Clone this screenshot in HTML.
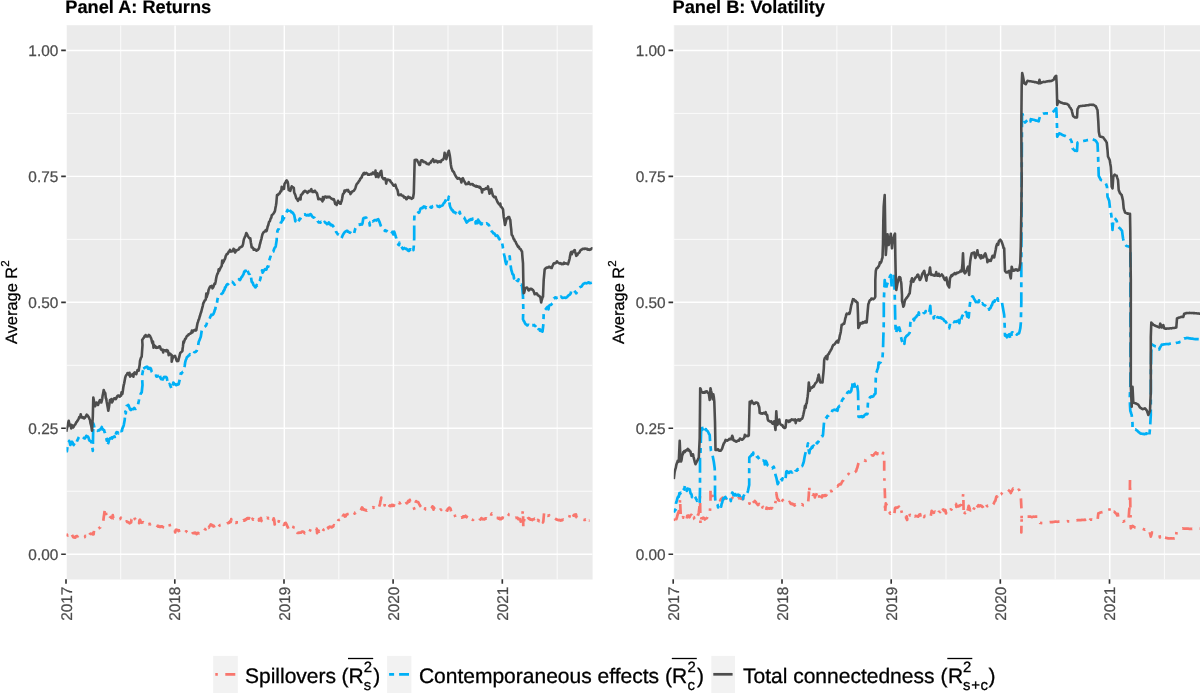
<!DOCTYPE html>
<html><head><meta charset="utf-8"><title>Connectedness</title>
<style>html,body{margin:0;padding:0;background:#fff;width:1200px;height:693px;overflow:hidden}svg text{font-family:"Liberation Sans",sans-serif;text-rendering:geometricPrecision}</style>
</head><body>
<svg width="1200" height="693" viewBox="0 0 1200 693" style="display:block;will-change:transform;font-family:'Liberation Sans',sans-serif">
<rect width="1200" height="693" fill="#fff"/>
<defs>
<clipPath id="cA"><rect x="66.5" y="25.2" width="526.1" height="554.3"/></clipPath>
<clipPath id="cB"><rect x="673.8" y="25.2" width="526.2" height="554.3"/></clipPath>
</defs>
<rect x="66.5" y="25.2" width="526.1" height="554.3" fill="#EBEBEB"/>
<g clip-path="url(#cA)" stroke="#fff" fill="none">
<path d="M66.5,113.4H592.6M66.5,239.35H592.6M66.5,365.3H592.6M66.5,491.25H592.6M120.7,25.2V579.5M229.7,25.2V579.5M338.8,25.2V579.5M448.0,25.2V579.5M557.2,25.2V579.5" stroke-width="0.8"/>
<path d="M66.5,50.4H592.6M66.5,176.35H592.6M66.5,302.3H592.6M66.5,428.25H592.6M66.5,554.25H592.6M66.3,25.2V579.5M175.1,25.2V579.5M284.3,25.2V579.5M393.4,25.2V579.5M502.6,25.2V579.5" stroke-width="1.45"/>
</g>
<g clip-path="url(#cA)" fill="none" stroke-width="2.7" stroke-linejoin="round">
<path d="M66.3,534.2 L66.8,534.4 L67.3,535.5 L67.8,535.4 L68.3,534.7 L68.8,533.6 L69.3,533.4 L69.8,532.7 L70.3,532.0 L70.9,533.3 L71.4,533.6 L72.0,535.0 L72.6,535.9 L73.1,537.1 L73.7,537.0 L74.1,537.6 L74.5,537.1 L75.0,536.7 L75.4,537.5 L75.8,536.3 L76.3,536.3 L76.8,536.0 L77.3,536.1 L77.8,536.4 L78.3,535.3 L78.8,535.7 L79.3,536.2 L79.8,535.8 L80.3,535.8 L80.8,535.8 L81.3,536.2 L81.8,536.4 L82.3,536.7 L82.8,536.5 L83.3,536.7 L83.8,537.3 L84.3,537.2 L84.8,537.1 L85.3,535.9 L85.8,536.3 L86.3,535.8 L86.8,534.2 L87.3,534.2 L87.8,534.3 L88.3,533.0 L88.8,533.9 L89.3,535.0 L89.8,534.2 L90.3,533.7 L90.8,533.6 L91.2,533.7 L91.6,534.0 L92.1,533.9 L92.5,534.2 L93.1,533.0 L93.6,534.3 L94.2,529.2 L94.7,529.0 L95.2,528.7 L95.7,529.3 L96.2,529.9 L96.7,529.2 L97.2,529.5 L97.7,529.3 L98.2,528.8 L98.7,528.4 L99.2,528.3 L99.7,527.6 L100.2,527.5 L100.7,525.9 L101.2,525.5 L101.7,524.7 L102.1,524.1 L102.6,523.3 L103.0,523.3 L103.7,517.5 L104.2,514.0 L104.7,510.3 L105.2,508.1 L105.8,511.7 L106.7,518.3 L107.2,518.3 L107.8,519.0 L108.3,519.7 L108.8,518.9 L109.3,518.5 L109.8,517.7 L110.3,517.5 L110.8,517.0 L111.3,517.3 L111.8,518.0 L112.3,517.8 L112.8,515.1 L113.3,518.3 L113.8,518.1 L114.3,517.9 L114.8,517.9 L115.2,518.4 L115.7,518.5 L116.2,518.8 L116.7,518.7 L117.1,518.7 L117.6,518.3 L118.1,517.7 L118.6,518.3 L119.0,518.3 L119.5,519.2 L120.0,519.2 L120.5,518.3 L121.0,517.7 L121.5,518.9 L122.0,518.6 L122.5,518.7 L123.0,518.7 L123.5,519.6 L123.9,520.7 L124.4,521.0 L124.9,521.1 L125.4,521.2 L125.8,522.0 L126.3,521.5 L126.8,521.3 L127.3,522.2 L127.7,522.1 L128.2,522.1 L128.7,522.5 L129.2,522.5 L129.6,523.3 L130.1,523.1 L130.6,522.6 L131.1,522.5 L131.5,519.4 L132.0,519.2 L132.5,520.8 L133.0,520.6 L133.5,521.0 L133.9,520.5 L134.4,517.3 L134.9,519.1 L135.4,519.2 L135.8,520.0 L136.3,519.9 L136.8,519.3 L137.2,519.3 L137.7,518.9 L138.2,519.1 L138.7,519.2 L139.1,523.2 L139.5,520.3 L140.0,519.7 L140.4,520.5 L140.8,521.7 L141.3,522.7 L141.8,522.8 L142.3,522.4 L142.7,522.4 L143.2,522.2 L143.7,522.6 L144.2,523.3 L144.6,524.0 L145.1,523.3 L145.6,523.0 L146.1,524.1 L146.5,523.9 L147.0,524.3 L147.5,523.7 L148.0,524.3 L148.5,524.2 L148.9,524.3 L149.4,523.8 L149.9,523.8 L150.4,524.2 L150.8,523.3 L151.3,523.4 L151.8,523.7 L152.3,523.5 L152.7,523.9 L153.2,524.3 L153.7,524.2 L154.2,524.7 L154.6,524.7 L155.1,524.6 L155.6,525.1 L156.1,525.3 L156.5,525.6 L157.0,525.8 L157.5,525.8 L158.0,526.6 L158.5,525.9 L158.9,526.4 L159.4,527.0 L159.9,526.9 L160.4,526.9 L160.8,526.3 L161.3,526.5 L161.8,526.3 L162.3,526.3 L162.7,527.0 L163.2,527.1 L163.7,527.4 L164.2,527.5 L164.7,527.0 L165.2,526.9 L165.7,526.8 L166.2,526.6 L166.7,526.7 L167.2,526.2 L167.7,525.0 L168.2,524.5 L168.7,524.6 L169.2,523.7 L169.8,525.2 L170.3,527.5 L170.8,528.2 L171.3,528.2 L171.8,528.3 L172.3,528.6 L172.8,528.7 L173.3,528.7 L173.8,528.4 L174.3,528.6 L174.8,530.1 L175.2,532.4 L175.7,529.9 L176.2,529.9 L176.7,529.7 L177.1,530.1 L177.6,530.0 L178.1,530.2 L178.6,531.0 L179.0,530.8 L179.5,530.3 L180.0,530.3 L180.5,529.9 L180.9,529.9 L181.4,530.3 L181.9,530.9 L182.3,530.6 L182.8,531.1 L183.2,531.5 L183.7,531.6 L184.2,531.3 L184.6,532.2 L185.1,532.6 L185.6,531.8 L186.1,531.4 L186.5,531.3 L187.0,532.2 L187.5,532.5 L188.0,532.9 L188.5,533.1 L188.9,534.0 L189.4,534.1 L189.9,533.1 L190.4,533.8 L190.8,533.3 L191.3,533.1 L191.8,534.0 L192.3,533.5 L192.7,533.2 L193.2,533.1 L193.7,533.1 L194.2,532.7 L194.6,533.3 L195.1,533.2 L195.6,532.8 L196.1,533.5 L196.5,534.2 L197.0,533.9 L197.5,533.0 L198.0,532.9 L198.5,533.0 L198.9,533.4 L199.4,533.4 L199.9,533.3 L200.4,532.5 L200.8,531.7 L201.3,531.0 L201.8,530.5 L202.3,529.8 L202.8,529.7 L203.3,529.2 L203.8,528.2 L204.3,528.5 L204.8,529.1 L205.2,529.0 L205.7,529.4 L206.2,528.5 L206.7,528.7 L207.2,528.4 L207.7,525.3 L208.2,527.5 L208.7,527.8 L209.2,526.7 L209.7,525.9 L210.2,525.3 L210.7,524.4 L211.2,524.6 L211.7,525.0 L212.2,525.1 L212.7,526.2 L213.2,526.2 L213.7,525.8 L214.2,526.7 L214.7,528.0 L215.2,528.3 L215.7,527.6 L216.2,527.8 L216.7,529.2 L217.2,529.0 L217.7,527.8 L218.2,527.5 L218.7,526.7 L219.2,525.8 L219.6,525.5 L220.1,525.0 L220.6,524.9 L221.1,525.0 L221.5,525.4 L222.0,525.1 L222.5,525.0 L223.0,524.5 L223.5,524.1 L223.9,524.4 L224.4,524.8 L224.9,524.5 L225.4,524.3 L225.8,524.2 L226.3,523.9 L226.8,523.8 L227.3,523.4 L227.8,523.3 L228.3,523.0 L228.8,522.4 L229.3,522.9 L229.8,521.9 L230.2,521.2 L230.7,521.9 L231.2,519.2 L231.7,522.0 L232.1,522.1 L232.6,521.9 L233.1,523.1 L233.6,522.2 L234.0,521.8 L234.5,522.1 L235.0,522.5 L235.5,522.4 L235.9,522.9 L236.4,522.3 L236.8,522.2 L237.3,522.3 L237.8,522.3 L238.2,522.3 L238.7,523.0 L239.2,522.2 L239.7,522.6 L240.2,522.3 L240.7,522.4 L241.2,521.7 L241.7,521.3 L242.1,521.5 L242.6,521.4 L243.1,520.9 L243.6,520.2 L244.0,520.6 L244.5,520.7 L245.0,519.7 L245.5,520.0 L246.0,519.1 L246.4,519.4 L246.9,518.4 L247.4,518.1 L247.9,518.1 L248.3,518.7 L248.9,518.0 L249.4,518.2 L250.0,518.7 L250.5,518.9 L251.0,516.0 L251.4,519.6 L251.9,519.4 L252.4,518.8 L252.9,519.7 L253.3,519.2 L253.8,520.2 L254.3,519.7 L254.8,519.4 L255.2,520.0 L255.7,520.3 L256.2,520.9 L256.7,519.7 L257.1,520.0 L257.6,519.8 L258.1,519.5 L258.6,519.2 L259.0,520.6 L259.5,519.3 L260.0,519.2 L260.5,518.3 L260.9,517.9 L261.4,521.1 L261.9,518.1 L262.3,518.4 L262.8,518.5 L263.2,518.3 L263.7,518.1 L264.2,518.3 L264.6,518.5 L265.1,518.8 L265.6,518.2 L266.0,517.7 L266.5,517.9 L266.9,517.7 L267.4,517.9 L267.9,518.4 L268.3,518.0 L268.8,518.3 L269.3,517.9 L269.8,517.5 L270.2,517.1 L270.7,516.2 L271.2,516.1 L271.7,517.0 L272.2,516.9 L272.7,517.1 L273.2,520.1 L273.7,518.4 L274.2,520.0 L274.7,524.5 L275.2,520.9 L275.7,520.6 L276.2,520.4 L276.7,520.8 L277.2,521.0 L277.7,520.4 L278.2,519.8 L278.7,521.6 L279.2,519.2 L279.7,520.5 L280.3,521.4 L280.8,522.5 L281.3,523.0 L281.8,523.1 L282.3,523.5 L282.8,523.7 L283.3,524.2 L283.8,524.8 L284.3,524.5 L284.8,523.1 L285.3,523.2 L285.8,523.0 L286.4,524.3 L286.9,525.1 L287.5,526.7 L288.1,527.9 L288.7,530.0 L289.1,530.3 L289.5,530.2 L290.0,530.8 L290.4,530.7 L290.8,530.8 L291.4,530.7 L291.9,530.1 L292.5,529.2 L293.1,528.4 L293.6,526.7 L294.2,525.8 L294.7,527.8 L295.3,529.2 L295.8,530.0 L296.4,530.5 L296.9,532.0 L297.5,533.0 L298.0,532.9 L298.5,532.7 L299.0,532.9 L299.5,532.6 L300.0,532.5 L300.5,532.6 L301.0,532.6 L301.4,532.3 L301.9,531.5 L302.4,531.5 L302.9,531.6 L303.3,531.7 L303.8,531.9 L304.3,532.9 L304.8,533.4 L305.2,533.0 L305.7,531.5 L306.2,531.8 L306.7,531.3 L307.2,531.5 L307.7,531.3 L308.2,531.9 L308.7,532.5 L309.2,532.5 L309.7,531.4 L310.3,529.9 L310.8,528.7 L311.3,528.7 L311.8,529.3 L312.3,529.7 L312.8,529.9 L313.3,529.2 L313.8,529.1 L314.3,530.0 L314.8,529.4 L315.2,528.8 L315.7,528.6 L316.2,529.0 L316.7,528.7 L317.1,533.1 L317.6,531.1 L318.1,530.8 L318.6,530.6 L319.0,531.7 L319.5,530.2 L320.0,529.7 L320.5,530.9 L321.0,530.5 L321.5,530.9 L322.0,531.2 L322.5,532.0 L323.1,530.7 L323.6,529.7 L324.2,529.2 L324.7,528.9 L325.3,525.7 L325.8,527.5 L326.3,527.6 L326.8,528.1 L327.3,528.4 L327.8,527.6 L328.3,528.3 L328.8,527.5 L329.3,526.7 L329.8,526.6 L330.2,526.9 L330.7,526.9 L331.2,527.3 L331.7,527.5 L332.1,527.1 L332.6,526.4 L333.1,526.6 L333.6,525.7 L334.0,525.1 L334.5,526.0 L335.0,525.8 L335.5,525.4 L336.0,524.4 L336.5,524.1 L337.0,523.0 L337.4,523.1 L337.9,521.7 L338.3,520.3 L338.8,520.1 L339.3,519.8 L339.8,519.7 L340.3,519.5 L340.8,520.0 L341.3,518.3 L341.8,518.2 L342.3,519.4 L342.8,516.2 L343.3,515.3 L343.8,514.7 L344.3,515.2 L344.8,516.5 L345.2,516.0 L345.7,516.3 L346.2,514.7 L346.7,514.7 L347.1,514.3 L347.6,514.0 L348.1,514.0 L348.6,514.0 L349.0,513.9 L349.5,513.6 L350.0,513.7 L350.6,513.9 L351.1,514.2 L351.7,515.0 L352.2,514.7 L352.7,513.1 L353.2,512.9 L353.7,512.6 L354.2,512.5 L354.7,513.6 L355.2,513.1 L355.7,513.0 L356.2,512.4 L356.7,511.7 L357.1,512.0 L357.6,512.0 L358.1,512.2 L358.6,511.2 L359.0,511.7 L359.5,510.7 L360.0,510.8 L360.5,510.6 L361.0,509.8 L361.5,508.4 L362.0,507.5 L362.4,507.7 L362.9,508.6 L363.3,509.7 L363.8,509.8 L364.3,509.5 L364.8,509.9 L365.3,510.4 L365.8,510.0 L366.3,510.3 L366.8,510.6 L367.3,510.2 L367.7,510.5 L368.2,509.4 L368.7,509.1 L369.2,508.7 L369.6,508.1 L370.1,508.2 L370.6,508.1 L371.1,508.2 L371.5,508.1 L372.0,507.8 L372.5,507.5 L373.0,507.1 L373.5,507.8 L373.9,507.7 L374.4,507.5 L374.9,507.8 L375.4,507.9 L375.8,508.3 L376.3,508.9 L376.8,509.1 L377.3,509.6 L377.8,508.9 L378.3,509.2 L378.9,507.6 L379.4,505.8 L380.0,504.2 L380.4,501.4 L380.9,499.6 L381.3,497.5 L381.9,499.0 L382.5,500.8 L383.1,500.7 L383.6,501.4 L384.2,502.5 L384.6,505.4 L385.1,502.5 L385.6,502.6 L386.1,503.2 L386.5,503.6 L387.0,503.4 L387.5,503.0 L388.0,502.8 L388.5,503.5 L388.9,504.8 L389.4,505.8 L389.9,505.5 L390.4,506.1 L390.8,505.8 L391.3,505.7 L391.8,504.8 L392.3,505.9 L392.8,505.1 L393.3,505.0 L393.8,505.9 L394.3,504.1 L394.8,503.1 L395.3,502.9 L395.8,502.5 L396.4,502.2 L396.9,501.4 L397.5,500.8 L398.0,501.2 L398.5,501.6 L399.0,503.0 L399.5,502.7 L400.0,503.3 L400.5,503.1 L401.0,502.6 L401.5,503.2 L402.0,502.7 L402.5,502.5 L403.0,501.8 L403.5,501.0 L404.0,501.0 L404.5,500.6 L405.0,500.3 L405.6,501.5 L406.1,502.4 L406.7,503.3 L407.2,503.2 L407.8,501.8 L408.3,500.8 L408.8,501.8 L409.3,501.7 L409.8,499.9 L410.3,502.4 L410.8,503.3 L411.3,504.8 L411.7,505.5 L412.1,505.3 L412.6,505.8 L413.0,505.8 L413.6,507.1 L414.1,508.4 L414.7,510.0 L415.3,503.3 L415.8,501.9 L416.2,501.1 L416.7,501.7 L417.2,502.0 L417.7,502.1 L418.2,502.0 L418.7,503.0 L419.2,504.2 L419.7,504.9 L420.3,506.1 L420.8,506.7 L421.3,507.3 L421.8,507.6 L422.3,506.9 L422.8,507.0 L423.3,507.0 L423.8,507.3 L424.3,510.7 L424.8,510.0 L425.2,508.4 L425.7,509.0 L426.2,509.5 L426.7,509.7 L427.1,509.1 L427.6,509.0 L428.1,508.5 L428.6,508.7 L429.0,508.3 L429.5,508.9 L430.0,509.2 L430.5,508.4 L431.0,508.3 L431.5,507.9 L432.0,507.2 L432.5,506.3 L433.0,507.2 L433.5,509.7 L434.0,507.5 L434.5,509.4 L435.0,510.0 L435.5,510.0 L436.0,510.8 L436.4,510.8 L436.9,510.6 L437.4,510.6 L437.9,510.1 L438.3,510.0 L438.8,509.3 L439.3,510.1 L439.8,510.1 L440.2,509.6 L440.7,509.5 L441.2,509.8 L441.7,509.2 L442.2,508.6 L442.7,508.7 L443.2,508.0 L443.7,509.1 L444.2,510.0 L444.6,509.8 L445.0,510.0 L445.5,510.3 L445.9,511.4 L446.3,511.7 L446.8,510.4 L447.3,510.7 L447.8,509.0 L448.3,508.7 L448.9,508.0 L449.4,507.6 L450.0,508.0 L450.6,509.0 L451.1,511.3 L451.7,513.7 L452.2,514.2 L452.7,514.1 L453.2,513.4 L453.7,515.0 L454.2,515.0 L454.6,514.5 L455.1,516.1 L455.6,517.5 L456.1,518.2 L456.5,518.5 L457.0,518.2 L457.5,518.3 L458.0,517.9 L458.5,518.3 L458.9,518.4 L459.4,517.9 L459.9,518.2 L460.4,517.9 L460.8,517.5 L461.3,517.6 L461.8,517.2 L462.3,517.1 L462.7,517.5 L463.2,516.3 L463.7,517.0 L464.2,517.0 L464.6,516.3 L465.1,516.2 L465.6,515.8 L466.0,516.8 L466.5,517.2 L466.9,516.6 L467.4,517.4 L467.9,517.8 L468.3,518.3 L468.8,520.2 L469.3,518.9 L469.8,518.8 L470.2,519.0 L470.7,518.9 L471.2,518.6 L471.7,519.2 L472.1,519.4 L472.6,520.0 L473.1,520.0 L473.5,519.2 L474.0,518.6 L474.4,518.6 L474.9,517.9 L475.4,518.1 L475.8,518.7 L476.3,519.6 L476.8,519.7 L477.2,520.1 L477.7,520.0 L478.1,519.8 L478.6,519.9 L479.1,520.2 L479.5,519.8 L480.0,519.7 L480.5,519.5 L481.0,519.1 L481.4,518.1 L481.9,518.8 L482.4,518.7 L482.9,519.3 L483.3,519.2 L483.8,519.2 L484.3,519.4 L484.8,518.8 L485.2,518.4 L485.7,518.8 L486.2,518.3 L486.7,518.7 L487.1,518.2 L487.6,518.2 L488.1,517.8 L488.6,518.6 L489.0,517.9 L489.5,518.2 L490.0,518.3 L490.4,517.2 L490.9,516.3 L491.3,514.2 L491.8,513.5 L492.3,514.3 L492.8,515.5 L493.2,515.6 L493.7,516.4 L494.2,516.7 L494.7,516.3 L495.2,516.8 L495.7,517.2 L496.2,518.0 L496.7,518.0 L497.1,518.0 L497.6,517.9 L498.1,517.9 L498.6,518.6 L499.0,518.1 L499.5,517.9 L500.0,519.2 L500.5,519.2 L501.0,519.2 L501.5,518.5 L502.0,518.0 L502.5,518.3 L503.1,516.1 L503.6,515.2 L504.2,515.0 L504.7,514.3 L505.2,513.2 L505.7,512.5 L506.2,512.8 L506.7,513.0 L507.2,513.3 L507.7,513.7 L508.2,513.9 L508.7,515.0 L509.2,515.0 L509.7,515.0 L510.2,515.1 L510.7,515.8 L511.2,515.9 L511.7,515.8 L512.1,516.2 L512.6,516.9 L513.1,516.7 L513.6,516.8 L514.0,517.0 L514.5,516.9 L515.0,518.0 L515.5,518.0 L516.0,517.7 L516.4,517.9 L516.9,517.8 L517.4,517.7 L517.9,518.2 L518.3,519.2 L518.8,519.3 L519.3,519.2 L519.8,518.8 L520.2,519.1 L520.7,521.7 L521.2,519.6 L521.7,519.7 L522.1,519.3 L522.6,512.9 L523.0,510.0 L523.3,527.5 L524.2,519.2 L524.7,516.8 L525.2,518.4 L525.7,517.8 L526.2,517.8 L526.7,518.3 L527.1,517.3 L527.6,517.0 L528.1,517.9 L528.6,518.1 L529.0,518.8 L529.5,518.4 L530.0,519.2 L530.5,519.7 L530.9,519.4 L531.4,519.6 L531.9,519.4 L532.3,520.0 L532.8,519.7 L533.2,519.4 L533.7,519.0 L534.2,519.2 L534.6,518.7 L535.1,518.9 L535.6,521.9 L536.1,519.8 L536.5,520.0 L537.0,520.6 L537.5,520.0 L538.0,520.5 L538.5,520.2 L539.0,521.2 L539.5,520.0 L540.0,523.3 L540.5,523.2 L541.0,522.7 L541.4,522.4 L541.9,521.9 L542.4,521.9 L542.9,522.5 L543.3,521.7 L544.2,511.7 L544.7,511.8 L545.3,513.6 L545.8,514.7 L546.3,515.1 L546.8,515.2 L547.3,515.7 L547.7,515.9 L548.2,515.6 L548.7,515.7 L549.2,515.3 L549.6,516.0 L550.1,515.4 L550.6,515.7 L551.1,515.4 L551.5,515.5 L552.0,515.5 L552.5,515.8 L553.0,516.8 L553.5,516.8 L554.0,517.2 L554.5,517.7 L555.0,518.3 L555.5,518.7 L556.0,519.2 L556.5,519.5 L557.0,519.7 L557.5,519.7 L558.0,519.8 L558.4,520.2 L558.9,520.1 L559.4,519.9 L559.8,520.1 L560.3,520.6 L560.7,520.5 L561.2,520.0 L561.7,520.3 L562.1,520.3 L562.6,519.9 L563.1,519.5 L563.6,519.7 L564.0,519.6 L564.5,519.6 L565.0,520.0 L565.5,520.1 L566.0,519.8 L566.4,519.7 L566.9,519.5 L567.4,519.7 L567.9,519.9 L568.3,519.7 L568.9,518.2 L569.4,516.7 L570.0,514.7 L570.5,515.0 L571.0,514.5 L571.5,514.5 L572.0,515.1 L572.5,515.8 L573.0,513.4 L573.5,515.7 L574.0,515.0 L574.5,514.7 L575.0,515.0 L575.5,516.2 L576.0,514.4 L576.5,517.3 L577.0,517.5 L577.5,518.3 L578.0,518.4 L578.5,518.3 L579.0,518.0 L579.5,518.2 L580.0,518.7 L580.5,518.7 L581.0,518.9 L581.4,518.7 L581.9,518.8 L582.4,518.9 L582.9,519.6 L583.3,519.7 L583.8,519.8 L584.3,520.0 L584.8,520.0 L585.2,519.8 L585.7,519.5 L586.2,519.7 L586.7,520.0 L587.1,519.9 L587.6,519.7 L588.1,517.5 L588.6,520.3 L589.0,520.4 L589.5,520.3" stroke="#F8766D" stroke-dasharray="2.50 7.50 10.00 7.50"/>
<path d="M66.3,451.7 L66.9,451.4 L67.4,447.1 L68.0,445.0 L68.6,443.3 L69.2,440.8 L69.8,442.7 L70.3,445.0 L70.9,443.9 L71.4,442.4 L72.0,441.7 L72.6,442.6 L73.1,443.9 L73.7,445.0 L74.1,444.4 L74.5,445.4 L75.0,445.0 L75.4,444.9 L75.8,444.7 L76.4,443.4 L76.9,441.4 L77.5,440.0 L78.1,438.9 L78.6,437.6 L79.2,436.7 L79.6,436.6 L80.0,436.3 L80.5,436.0 L80.9,435.8 L81.3,435.8 L81.8,436.2 L82.3,437.0 L82.8,437.1 L83.3,437.5 L83.9,438.1 L84.4,438.4 L85.0,438.3 L85.4,437.6 L85.9,436.8 L86.3,435.8 L86.9,436.1 L87.4,436.6 L88.0,436.7 L88.6,437.8 L89.1,439.8 L89.7,440.8 L90.2,440.9 L90.7,441.2 L91.2,442.3 L91.7,442.5 L92.2,446.3 L92.8,450.8 L93.3,423.3 L93.8,424.9 L94.2,426.7 L94.7,429.2 L95.1,429.6 L95.6,429.5 L96.1,430.0 L96.5,429.7 L97.0,430.0 L97.4,430.2 L97.9,430.8 L98.3,430.2 L98.7,430.1 L99.2,430.3 L99.6,430.0 L100.0,429.4 L100.5,429.2 L100.9,428.5 L101.3,428.3 L101.8,427.0 L102.3,429.5 L102.7,429.1 L103.2,429.5 L103.7,430.0 L104.1,430.0 L104.5,432.1 L105.0,432.8 L105.4,434.0 L105.8,436.7 L106.3,438.2 L106.8,440.7 L107.3,438.9 L107.8,444.2 L108.3,443.0 L108.7,441.8 L109.2,439.2 L109.7,439.0 L110.2,438.2 L110.7,438.3 L111.2,438.3 L111.7,437.5 L112.2,438.5 L112.7,437.5 L113.2,437.1 L113.7,436.6 L114.2,436.7 L114.6,436.5 L115.0,438.9 L115.5,435.2 L115.9,433.8 L116.3,432.5 L116.8,432.1 L117.3,432.2 L117.8,432.5 L118.3,433.3 L118.9,432.2 L119.4,431.7 L120.0,430.0 L120.5,430.4 L121.0,431.1 L121.5,430.5 L122.0,430.8 L122.4,428.4 L122.9,427.2 L123.3,426.7 L123.8,424.8 L124.2,422.8 L124.7,420.0 L125.3,411.7 L125.8,413.4 L126.2,408.3 L126.7,405.8 L127.2,405.8 L127.8,405.3 L128.3,405.0 L128.9,406.1 L129.4,407.8 L130.0,409.2 L130.5,409.7 L130.9,410.1 L131.4,409.3 L131.9,409.1 L132.3,409.0 L132.8,409.0 L133.2,409.2 L133.7,408.8 L134.2,408.0 L134.7,408.3 L135.2,409.0 L135.7,409.0 L136.2,408.6 L136.7,408.3 L137.2,407.1 L137.8,405.9 L138.3,403.3 L138.9,400.5 L139.4,397.2 L140.0,396.7 L140.6,394.1 L141.1,393.0 L141.7,392.5 L142.5,385.0 L142.0,375.8 L142.4,373.8 L142.9,371.0 L143.3,370.0 L143.9,366.1 L144.4,368.3 L145.0,367.5 L145.5,367.3 L146.0,367.0 L146.5,366.9 L147.0,366.7 L147.5,367.0 L148.0,368.7 L148.4,368.2 L148.9,368.8 L149.4,368.8 L149.9,368.0 L150.4,368.3 L150.8,368.3 L151.7,371.7 L152.2,372.4 L152.7,373.1 L153.2,374.0 L153.7,374.6 L154.2,375.8 L154.7,376.1 L155.2,376.0 L155.7,375.7 L156.2,375.7 L156.7,376.7 L157.2,376.2 L157.7,376.0 L158.2,375.9 L158.7,376.1 L159.2,375.0 L159.6,373.5 L160.0,375.9 L160.5,378.2 L160.9,378.6 L161.3,379.2 L161.8,378.8 L162.3,379.4 L162.8,379.5 L163.3,378.3 L163.8,377.6 L164.3,376.8 L164.8,377.1 L165.2,377.1 L165.7,376.8 L166.2,377.3 L166.7,377.5 L167.1,379.4 L167.6,381.5 L168.0,384.2 L168.5,384.2 L169.0,384.8 L169.5,384.0 L170.0,385.0 L170.6,386.4 L171.1,387.5 L171.7,389.2 L172.2,386.4 L172.8,384.7 L173.3,382.5 L173.9,383.1 L174.4,383.8 L175.0,384.2 L175.6,384.9 L176.1,385.2 L176.7,385.0 L177.2,384.2 L177.7,384.7 L178.2,384.4 L178.7,384.2 L179.1,382.2 L179.6,380.2 L180.0,378.3 L180.8,373.3 L181.3,373.8 L181.8,372.8 L182.3,372.5 L182.8,371.8 L183.3,371.7 L183.8,369.2 L184.2,367.7 L184.7,365.8 L185.2,362.3 L185.8,360.0 L186.4,358.8 L186.9,357.2 L187.5,356.7 L188.0,356.4 L188.5,355.7 L188.9,355.4 L189.4,355.2 L189.9,354.2 L190.4,354.7 L190.8,355.0 L191.3,354.7 L191.8,353.9 L192.3,353.4 L192.8,353.1 L193.3,353.3 L193.8,353.4 L194.3,352.2 L194.8,352.1 L195.2,352.0 L195.7,351.8 L196.2,351.2 L196.7,350.8 L197.2,349.0 L197.8,347.1 L198.3,345.0 L198.3,344.2 L198.8,341.6 L199.3,340.5 L199.8,339.4 L200.3,337.9 L200.8,336.7 L201.7,330.8 L202.2,329.3 L202.8,328.7 L203.3,327.5 L203.8,327.2 L204.3,327.2 L204.8,326.8 L205.3,326.2 L205.8,325.8 L206.3,324.8 L206.8,323.4 L207.3,321.8 L207.8,320.0 L208.3,320.0 L208.8,319.5 L209.3,319.0 L209.8,318.0 L210.3,316.9 L210.8,315.8 L211.3,314.7 L211.8,315.3 L212.3,314.7 L212.8,314.6 L213.3,314.2 L213.8,313.0 L214.3,311.9 L214.8,309.9 L215.3,309.2 L215.8,305.9 L216.3,303.3 L216.9,303.5 L217.5,299.2 L218.0,297.4 L218.5,296.8 L219.0,297.0 L219.5,296.5 L220.0,296.7 L220.5,295.9 L221.0,295.0 L221.5,293.8 L222.0,293.5 L222.5,293.3 L223.0,292.6 L223.5,290.8 L224.0,290.7 L224.5,289.7 L225.0,287.5 L225.5,287.3 L226.0,286.3 L226.5,285.1 L227.0,284.5 L227.5,284.2 L228.0,284.3 L228.5,283.6 L229.0,282.9 L229.5,282.0 L230.0,281.7 L230.5,280.9 L230.9,281.3 L231.4,282.0 L231.9,281.8 L232.3,282.0 L232.8,282.3 L233.2,282.9 L233.7,283.4 L234.2,284.2 L234.7,284.6 L235.2,284.0 L235.7,283.5 L236.2,283.1 L236.7,282.5 L237.1,281.9 L237.6,281.3 L238.1,280.2 L238.6,279.9 L239.0,279.2 L239.5,279.8 L240.0,280.0 L240.5,279.3 L241.0,278.2 L241.5,277.1 L242.0,276.8 L242.5,275.8 L243.1,274.9 L243.6,274.0 L244.2,271.7 L244.7,271.8 L245.2,271.3 L245.7,270.7 L246.2,267.9 L246.7,268.3 L247.2,270.1 L247.8,271.2 L248.3,272.5 L248.8,273.9 L249.3,273.9 L249.8,273.8 L250.3,273.0 L250.8,275.8 L251.7,281.7 L252.2,282.4 L252.8,282.9 L253.3,284.7 L253.8,285.4 L254.3,286.0 L254.7,286.5 L255.2,287.3 L255.6,287.3 L256.1,286.3 L256.6,284.9 L257.0,285.7 L257.5,284.7 L257.9,284.5 L258.4,283.5 L258.8,282.6 L259.2,281.7 L259.7,280.8 L260.2,279.4 L260.7,277.3 L261.2,275.1 L261.7,272.5 L262.1,270.3 L262.6,272.6 L263.1,271.9 L263.6,270.7 L264.0,270.6 L264.5,269.8 L265.0,269.2 L265.5,269.7 L266.0,269.7 L266.4,269.5 L266.9,268.1 L267.4,266.6 L267.9,266.9 L268.3,266.7 L269.2,260.8 L269.7,259.0 L270.3,257.1 L270.8,255.8 L271.3,254.3 L271.8,253.2 L272.3,251.7 L272.8,251.8 L273.3,251.7 L273.8,250.0 L274.3,248.5 L274.8,247.5 L275.3,247.4 L275.8,245.8 L276.7,240.0 L276.7,236.7 L277.5,230.8 L277.9,229.9 L278.4,229.3 L278.8,228.8 L279.2,227.4 L279.7,226.7 L280.2,224.8 L280.8,222.5 L281.3,222.4 L281.7,221.4 L282.1,221.0 L282.6,216.3 L283.0,220.0 L283.5,218.7 L284.0,218.0 L284.5,216.7 L285.0,215.8 L285.5,214.7 L286.0,214.1 L286.5,212.6 L287.0,211.1 L287.5,210.0 L288.1,211.5 L288.7,214.2 L289.2,212.6 L289.8,211.8 L290.3,210.8 L290.8,211.4 L291.2,211.9 L291.6,212.4 L292.1,212.1 L292.5,212.5 L293.1,213.1 L293.6,214.2 L294.2,215.0 L294.8,218.2 L295.3,221.3 L295.8,220.0 L296.2,221.1 L296.7,221.1 L297.1,221.9 L297.6,222.6 L298.0,222.5 L298.5,221.5 L299.0,220.4 L299.5,219.0 L300.0,219.2 L300.5,218.5 L301.0,217.4 L301.5,216.6 L302.0,216.3 L302.5,216.7 L303.0,216.3 L303.5,215.9 L304.0,214.7 L304.5,214.7 L305.0,214.2 L305.5,214.9 L306.0,215.2 L306.5,215.4 L307.0,215.1 L307.5,215.3 L308.0,214.9 L308.5,215.1 L308.9,215.5 L309.4,214.6 L309.9,214.8 L310.4,214.2 L310.8,214.2 L311.4,215.0 L311.9,216.3 L312.5,216.7 L313.0,216.9 L313.4,217.6 L313.9,217.5 L314.4,217.7 L314.8,218.4 L315.3,218.4 L315.7,219.0 L316.2,219.2 L316.7,218.7 L317.1,219.1 L317.6,221.0 L318.1,221.5 L318.6,222.4 L319.0,222.5 L319.5,222.4 L320.0,222.5 L320.5,222.7 L321.0,221.8 L321.5,222.1 L322.0,222.7 L322.5,222.0 L323.0,222.4 L323.5,222.0 L324.0,222.9 L324.5,221.8 L325.0,222.5 L325.5,222.7 L326.0,222.9 L326.4,223.5 L326.9,224.1 L327.4,223.6 L327.9,223.8 L328.3,223.3 L328.8,222.5 L329.3,223.0 L329.8,223.6 L330.2,224.5 L330.7,225.1 L331.2,224.6 L331.7,224.7 L332.2,225.6 L332.7,225.4 L333.2,226.1 L333.7,227.1 L334.2,227.8 L334.7,227.5 L335.2,228.8 L335.7,230.2 L336.2,232.1 L336.7,232.5 L337.2,233.4 L337.7,234.2 L338.2,234.3 L338.7,234.8 L339.2,235.0 L339.6,235.9 L340.0,236.8 L340.5,237.0 L340.9,238.2 L341.3,238.3 L341.8,237.5 L342.3,236.2 L342.8,235.1 L343.3,234.2 L343.9,233.3 L344.4,232.6 L345.0,231.7 L345.5,231.6 L346.0,231.1 L346.5,231.2 L347.0,230.9 L347.5,230.8 L348.0,231.8 L348.5,231.9 L349.0,232.1 L349.5,232.6 L350.0,232.5 L350.5,232.5 L350.9,233.1 L351.4,233.5 L351.9,232.7 L352.3,232.5 L352.8,231.5 L353.2,232.3 L353.7,232.5 L354.2,233.0 L354.7,230.9 L355.3,228.6 L355.8,227.5 L356.4,227.5 L356.9,226.9 L357.5,225.8 L358.0,225.4 L358.5,224.8 L359.0,224.6 L359.5,224.8 L360.0,224.2 L360.5,224.1 L361.0,224.6 L361.5,224.1 L362.0,224.5 L362.5,223.3 L363.3,218.3 L363.8,218.0 L364.3,217.9 L364.8,218.0 L365.3,217.5 L365.8,217.5 L366.3,217.7 L366.8,219.0 L367.3,219.9 L367.8,220.8 L368.3,220.3 L368.8,221.9 L369.3,222.0 L369.8,225.5 L370.2,222.4 L370.7,221.7 L371.2,221.3 L371.7,220.8 L372.1,221.1 L372.6,221.4 L373.1,221.0 L373.6,221.0 L374.0,220.4 L374.5,220.2 L375.0,220.0 L375.5,220.1 L376.0,220.0 L376.4,220.5 L376.9,220.0 L377.4,219.7 L377.9,219.3 L378.3,219.2 L378.9,220.5 L379.4,221.9 L380.0,223.3 L380.4,224.8 L380.9,226.1 L381.3,227.0 L381.8,227.6 L382.3,227.6 L382.8,227.8 L383.2,229.2 L383.7,229.4 L384.2,230.0 L384.7,230.8 L385.2,230.2 L385.7,230.7 L386.2,231.1 L386.7,230.8 L387.2,231.5 L387.8,232.1 L388.3,232.5 L388.8,231.8 L389.3,231.6 L389.8,231.7 L390.3,231.8 L390.8,231.3 L391.3,231.5 L391.8,232.4 L392.3,231.9 L392.7,231.8 L393.2,234.4 L393.7,231.8 L394.2,231.7 L394.7,232.9 L395.3,235.0 L395.8,236.7 L396.4,238.4 L396.9,241.3 L397.5,243.3 L398.0,243.9 L398.5,244.9 L399.0,245.2 L399.5,242.7 L400.0,245.8 L400.5,246.2 L401.0,246.3 L401.4,246.2 L401.9,247.3 L402.4,248.3 L402.9,249.1 L403.3,248.3 L403.8,248.5 L404.3,248.0 L404.8,248.5 L405.2,248.5 L405.7,248.9 L406.2,248.6 L406.7,249.2 L407.2,249.3 L407.7,250.3 L408.2,250.6 L408.7,251.0 L409.2,250.8 L409.7,249.3 L410.2,249.8 L410.7,249.3 L411.2,249.5 L411.7,248.3 L412.1,248.4 L412.5,248.1 L413.0,247.8 L413.4,250.2 L413.8,245.8 L414.2,238.3 L414.2,230.0 L414.2,220.8 L414.5,214.2 L414.9,213.9 L415.4,213.3 L415.8,213.3 L416.2,213.0 L416.7,213.0 L417.2,213.5 L417.7,213.1 L418.2,212.3 L418.7,212.7 L419.2,212.5 L419.7,211.1 L420.3,209.0 L420.8,208.3 L421.3,208.3 L421.8,207.9 L422.3,208.2 L422.8,207.7 L423.3,207.0 L423.8,206.5 L424.3,206.9 L424.8,206.6 L425.2,207.2 L425.7,208.0 L426.2,207.4 L426.7,208.0 L427.2,208.1 L427.7,208.2 L428.2,207.8 L428.7,208.3 L429.2,208.7 L429.7,209.1 L430.2,208.6 L430.7,206.9 L431.2,207.7 L431.7,207.5 L432.2,206.6 L432.7,206.0 L433.2,206.1 L433.7,205.3 L434.2,205.0 L434.7,205.4 L435.2,205.8 L435.7,206.5 L436.2,206.3 L436.7,205.8 L437.2,206.0 L437.7,206.4 L438.2,206.7 L438.7,206.6 L439.2,207.0 L439.7,206.0 L440.2,206.6 L440.7,206.1 L441.2,205.9 L441.7,205.8 L442.2,205.6 L442.7,205.2 L443.2,204.1 L443.7,203.3 L444.1,202.8 L444.5,202.7 L445.0,201.7 L445.4,200.5 L445.8,200.8 L446.4,199.3 L446.9,201.8 L447.5,202.0 L447.9,200.4 L448.4,198.6 L448.8,196.7 L449.5,203.3 L449.9,205.8 L450.4,207.3 L450.8,208.3 L451.3,208.6 L451.8,210.0 L452.3,210.5 L452.8,210.3 L453.3,211.7 L453.8,212.2 L454.3,212.0 L454.8,212.3 L455.3,212.8 L455.8,213.3 L456.3,213.2 L456.8,214.3 L457.3,213.5 L457.7,213.4 L458.2,212.9 L458.7,213.1 L459.2,214.2 L459.7,211.9 L460.2,213.9 L460.7,214.8 L461.2,214.9 L461.7,215.8 L462.2,216.2 L462.7,216.2 L463.2,217.5 L463.7,217.3 L464.2,217.5 L464.7,218.7 L465.3,219.7 L465.8,220.8 L466.7,222.5 L467.2,221.9 L467.7,221.7 L468.2,220.8 L468.7,220.7 L469.2,220.0 L469.7,220.3 L470.2,219.8 L470.7,219.3 L471.2,219.8 L471.7,219.2 L472.2,219.5 L472.7,218.6 L473.2,219.8 L473.7,219.7 L474.2,220.0 L474.7,220.0 L475.2,219.5 L475.7,223.5 L476.2,221.0 L476.7,221.3 L477.2,218.2 L477.7,223.1 L478.2,219.7 L478.7,220.8 L479.2,221.3 L479.7,222.2 L480.2,222.5 L480.7,224.0 L481.2,223.6 L481.7,224.2 L482.2,223.5 L482.7,224.0 L483.2,224.3 L483.7,223.5 L484.2,224.2 L484.7,224.2 L485.2,223.3 L485.7,223.4 L486.2,223.2 L486.7,223.3 L487.2,223.6 L487.7,224.3 L488.2,224.6 L488.7,224.8 L489.2,225.8 L489.7,228.7 L490.3,228.6 L490.8,230.0 L490.8,230.0 L491.3,230.7 L491.8,231.4 L492.3,231.8 L492.8,232.4 L493.3,233.3 L493.8,233.2 L494.3,233.4 L494.8,234.0 L495.2,234.9 L495.7,235.8 L496.2,236.0 L496.7,235.8 L497.2,235.5 L497.7,236.0 L498.2,236.7 L498.7,238.4 L499.2,238.3 L499.7,239.6 L500.2,240.3 L500.7,239.7 L501.2,240.7 L501.7,241.7 L502.1,243.3 L502.6,245.4 L503.0,248.3 L503.6,251.8 L504.2,255.0 L504.8,257.4 L505.3,260.8 L506.2,264.2 L506.6,262.2 L507.1,259.9 L507.5,257.5 L507.9,257.1 L508.4,257.5 L508.8,257.2 L509.2,256.6 L509.7,256.3 L510.3,263.3 L510.8,266.8 L511.3,270.0 L511.9,271.7 L512.5,274.2 L513.0,274.4 L513.5,274.8 L514.0,278.5 L514.5,276.5 L515.0,276.7 L515.5,277.3 L516.0,278.7 L516.5,280.1 L517.0,280.6 L517.5,280.8 L518.0,281.1 L518.5,279.4 L519.0,281.4 L519.5,282.5 L520.0,283.3 L520.5,283.8 L521.0,284.9 L521.5,284.7 L522.0,285.8 L522.5,290.7 L523.0,296.7 L523.3,308.3 L523.0,319.2 L523.5,320.3 L524.0,321.3 L524.5,322.0 L525.0,323.3 L525.6,324.1 L526.1,324.4 L526.7,325.0 L527.2,325.4 L527.7,325.0 L528.2,324.9 L528.7,324.8 L529.2,325.0 L529.7,324.2 L530.2,324.3 L530.7,324.2 L531.2,324.8 L531.7,325.8 L532.2,325.1 L532.7,325.0 L533.2,325.4 L533.7,325.5 L534.2,325.0 L534.7,325.8 L535.2,326.0 L535.7,326.5 L536.2,327.2 L536.7,327.5 L537.2,327.6 L537.7,329.1 L538.2,330.7 L538.7,329.2 L539.1,329.1 L539.5,329.3 L540.0,330.7 L540.4,330.8 L540.8,330.0 L541.4,330.5 L541.9,330.7 L542.5,331.7 L543.3,325.0 L543.7,313.3 L544.1,311.8 L544.6,309.9 L545.0,310.0 L545.5,309.4 L546.0,308.7 L546.5,308.0 L547.0,307.5 L547.5,307.0 L548.0,306.7 L548.5,309.4 L549.0,305.9 L549.5,305.3 L550.0,305.0 L550.5,305.0 L551.0,304.9 L551.5,304.2 L552.0,303.7 L552.5,303.3 L553.3,299.2 L553.8,298.4 L554.3,298.2 L554.8,297.8 L555.3,297.4 L555.8,297.5 L556.3,298.1 L556.8,297.5 L557.3,297.6 L557.7,297.5 L558.2,297.5 L558.7,297.3 L559.2,297.0 L559.6,295.7 L560.1,297.1 L560.6,296.6 L561.1,296.6 L561.5,297.1 L562.0,297.7 L562.5,298.0 L563.0,297.8 L563.4,297.7 L563.9,297.8 L564.4,297.7 L564.8,297.5 L565.3,297.8 L565.7,297.9 L566.2,297.6 L566.7,297.5 L567.2,296.9 L567.7,296.2 L568.2,295.7 L568.7,295.2 L569.2,295.0 L569.7,294.8 L570.2,294.1 L570.7,293.5 L571.2,291.1 L571.7,292.5 L572.2,292.0 L572.7,291.8 L573.2,291.4 L573.7,291.1 L574.2,290.8 L574.6,291.3 L575.0,291.5 L575.5,292.2 L575.9,292.8 L576.3,293.3 L576.8,292.3 L577.3,291.7 L577.8,290.6 L578.3,289.2 L578.8,288.1 L579.3,287.5 L579.8,287.2 L580.3,287.0 L580.8,286.7 L581.3,286.6 L581.8,286.2 L582.3,285.3 L582.7,284.6 L583.2,284.0 L583.7,283.6 L584.2,283.3 L584.6,283.3 L585.1,283.0 L585.6,283.1 L586.1,283.2 L586.5,283.4 L587.0,283.1 L587.5,283.0 L588.0,282.7 L588.5,282.3 L588.9,282.5 L589.4,283.0 L589.9,283.2 L590.4,283.0 L590.8,283.0 L591.3,282.8 L591.8,282.6 L592.3,282.6 L592.8,282.0" stroke="#00B0F6" stroke-dasharray="5.00 5.00 15.00 5.00"/>
<path d="M66.3,431.7 L66.9,428.7 L67.5,426.7 L68.1,423.4 L68.7,420.8 L69.1,422.7 L69.6,424.9 L70.0,425.8 L70.6,424.6 L71.1,428.4 L71.7,425.0 L72.2,425.7 L72.8,426.3 L73.3,427.5 L73.8,426.5 L74.3,425.5 L74.8,424.8 L75.3,424.3 L75.8,423.3 L76.4,422.1 L76.9,421.7 L77.5,420.8 L78.1,419.7 L78.6,419.0 L79.2,417.0 L79.7,417.1 L80.2,417.4 L80.7,414.2 L81.2,417.1 L81.7,417.5 L82.2,417.4 L82.7,417.1 L83.2,418.0 L83.7,417.7 L84.2,418.3 L84.7,418.0 L85.2,417.2 L85.7,416.6 L86.2,415.6 L86.7,414.7 L87.2,415.8 L87.8,415.5 L88.3,416.7 L88.9,417.4 L89.4,418.9 L90.0,420.0 L90.5,423.3 L91.0,425.0 L91.5,427.2 L92.0,430.8 L92.8,416.7 L93.3,397.5 L93.8,399.9 L94.2,405.7 L94.7,405.0 L95.2,406.2 L95.7,403.3 L96.2,402.6 L96.7,402.5 L97.1,402.8 L97.6,403.8 L98.0,405.0 L98.5,403.5 L99.0,402.5 L99.5,400.9 L100.0,400.0 L100.4,401.4 L100.9,402.5 L101.3,402.5 L101.8,400.9 L102.3,398.2 L102.7,395.2 L103.2,393.1 L103.7,390.0 L104.2,391.6 L104.8,392.6 L105.3,393.3 L105.8,398.2 L106.2,398.5 L106.7,401.7 L107.2,404.4 L107.8,407.8 L108.3,410.8 L108.9,407.5 L109.4,404.1 L110.0,400.0 L110.5,400.5 L111.0,401.5 L111.5,399.1 L112.0,402.5 L112.4,401.5 L112.9,400.7 L113.3,399.5 L113.7,399.0 L114.2,398.3 L114.7,398.6 L115.3,398.2 L115.8,399.2 L116.4,397.9 L116.9,397.3 L117.5,395.8 L117.9,395.6 L118.4,395.6 L118.8,395.5 L119.2,396.4 L119.7,396.7 L120.1,396.2 L120.6,395.3 L121.1,395.6 L121.5,392.3 L122.0,394.2 L122.4,393.8 L122.9,390.6 L123.3,387.5 L123.7,385.2 L124.2,383.3 L124.7,380.6 L125.3,377.3 L125.8,375.8 L126.4,374.8 L126.9,374.3 L127.5,373.0 L128.0,373.0 L128.5,373.9 L129.0,375.0 L129.5,372.7 L130.0,376.7 L130.5,376.1 L131.0,375.9 L131.5,375.0 L132.0,374.6 L132.5,374.2 L132.9,374.1 L133.4,376.8 L133.8,373.5 L134.2,373.0 L134.7,372.5 L135.2,373.3 L135.8,373.8 L136.3,374.2 L136.9,372.0 L137.5,370.0 L138.1,370.8 L138.7,370.8 L139.1,367.9 L139.6,365.3 L140.0,360.8 L140.6,359.0 L141.1,357.5 L141.7,356.7 L142.5,345.0 L142.2,340.0 L142.7,339.2 L143.2,338.3 L143.7,338.0 L144.2,337.0 L144.6,336.2 L145.1,336.4 L145.6,335.0 L146.1,336.0 L146.5,336.5 L147.0,336.3 L147.5,335.8 L148.0,336.5 L148.5,335.4 L148.9,334.9 L149.4,335.3 L149.9,335.8 L150.4,336.9 L150.8,337.5 L151.4,339.1 L151.9,341.5 L152.5,343.3 L153.0,341.6 L153.5,347.7 L154.0,344.9 L154.5,345.9 L155.0,346.7 L155.5,346.3 L156.0,347.7 L156.5,347.9 L157.0,347.4 L157.5,347.5 L157.9,347.7 L158.4,347.4 L158.8,346.6 L159.2,346.4 L159.7,346.3 L160.2,347.1 L160.7,349.0 L161.2,349.5 L161.7,350.0 L162.2,349.9 L162.7,349.6 L163.2,352.4 L163.7,350.1 L164.2,350.3 L164.7,350.3 L165.2,350.2 L165.7,350.6 L166.2,351.4 L166.7,350.0 L167.2,350.7 L167.7,350.5 L168.2,351.9 L168.7,355.2 L169.2,353.3 L169.7,353.6 L170.2,353.8 L170.7,354.2 L171.2,354.9 L171.7,355.0 L171.7,361.7 L172.2,359.4 L172.8,358.0 L173.3,356.7 L173.9,356.2 L174.4,356.1 L175.0,355.8 L175.6,357.4 L176.1,358.9 L176.7,360.8 L177.2,361.2 L177.8,360.6 L178.3,360.8 L178.8,358.6 L179.2,357.2 L179.7,355.0 L180.2,353.0 L180.8,352.5 L181.4,352.0 L181.9,351.6 L182.5,350.8 L182.5,349.2 L182.9,346.9 L183.4,341.6 L183.8,342.9 L184.2,341.4 L184.7,340.0 L185.2,338.7 L185.7,338.6 L186.2,337.5 L186.7,336.3 L187.1,335.9 L187.6,335.6 L188.1,335.4 L188.6,334.3 L189.0,334.5 L189.5,333.9 L190.0,333.7 L190.5,333.5 L191.0,333.0 L191.4,332.4 L191.9,330.6 L192.4,332.4 L192.9,331.5 L193.3,331.3 L193.8,330.5 L194.3,330.1 L194.8,329.9 L195.3,329.9 L195.8,330.5 L196.3,330.0 L196.9,326.6 L197.5,323.3 L198.0,321.9 L198.5,320.0 L199.0,319.2 L199.5,317.2 L200.0,315.8 L200.6,313.5 L201.1,312.3 L201.7,310.0 L202.2,308.0 L202.8,305.8 L203.3,303.3 L203.8,302.5 L204.3,301.4 L204.8,300.3 L205.3,300.3 L205.8,299.2 L206.3,293.5 L206.7,297.1 L207.1,295.7 L207.6,294.1 L208.0,293.3 L208.5,290.3 L209.0,288.9 L209.5,287.9 L210.0,286.7 L210.6,286.4 L211.1,286.5 L211.7,285.8 L212.5,288.3 L213.0,287.6 L213.5,286.6 L214.0,285.1 L214.5,283.7 L215.0,284.2 L215.6,281.7 L216.1,278.8 L216.7,275.8 L217.2,274.3 L217.7,273.5 L218.2,272.4 L218.7,269.3 L219.2,270.8 L219.7,269.6 L220.2,268.5 L220.7,267.4 L221.2,266.7 L221.7,265.8 L222.2,260.6 L222.7,263.4 L223.2,262.1 L223.7,261.5 L224.2,260.0 L224.7,259.4 L225.2,258.2 L225.7,256.1 L226.2,255.2 L226.7,254.2 L227.1,254.0 L227.6,253.9 L228.1,253.0 L228.6,251.9 L229.0,251.3 L229.5,251.4 L230.0,250.0 L230.0,249.7 L230.5,250.5 L231.0,251.6 L231.5,251.4 L232.0,251.3 L232.5,251.3 L233.0,250.9 L233.5,248.8 L234.0,250.6 L234.5,249.4 L235.0,252.5 L235.5,251.7 L236.0,250.9 L236.5,250.2 L237.0,250.2 L237.5,250.0 L238.0,249.7 L238.5,249.7 L239.0,249.2 L239.5,247.7 L240.0,247.5 L240.5,247.4 L241.0,246.7 L241.5,246.7 L242.0,246.6 L242.5,245.8 L243.1,243.9 L243.6,240.7 L244.2,238.3 L244.6,237.6 L245.0,236.7 L245.5,235.8 L245.9,234.3 L246.3,233.0 L246.8,233.7 L247.3,235.0 L247.8,235.9 L248.3,236.7 L248.8,237.4 L249.3,238.2 L249.8,238.5 L250.3,238.3 L250.8,242.2 L251.2,244.3 L251.7,247.5 L252.2,247.5 L252.7,247.6 L253.2,248.4 L253.7,249.8 L254.2,249.7 L254.6,249.2 L255.1,249.6 L255.6,249.8 L256.1,250.5 L256.5,250.7 L257.0,250.0 L257.4,249.9 L257.9,249.9 L258.3,249.1 L258.7,248.9 L259.2,247.5 L259.7,244.9 L260.3,243.0 L260.8,240.8 L261.4,238.8 L261.9,236.5 L262.5,234.2 L263.1,233.1 L263.6,232.2 L264.2,231.7 L264.7,231.6 L265.2,231.0 L265.7,230.1 L266.2,231.2 L266.7,230.8 L267.2,228.7 L267.7,226.4 L268.2,225.4 L268.7,223.3 L269.1,221.7 L269.5,221.7 L270.0,220.8 L270.4,219.2 L270.8,218.3 L271.3,217.7 L271.7,215.5 L272.1,214.8 L272.6,214.5 L273.0,214.2 L273.5,213.5 L274.0,212.8 L274.5,212.0 L275.0,210.8 L275.4,208.1 L275.9,205.8 L276.3,203.3 L277.0,195.0 L277.4,194.9 L277.9,195.1 L278.3,194.7 L278.7,193.8 L279.2,193.7 L279.7,193.4 L280.3,191.8 L280.8,190.8 L281.3,191.2 L281.7,186.8 L282.1,189.0 L282.6,189.1 L283.0,189.2 L283.5,187.5 L284.0,188.9 L284.5,184.0 L285.0,183.3 L285.6,182.1 L286.1,180.9 L286.7,180.3 L287.1,181.2 L287.6,181.7 L288.0,183.3 L288.7,190.0 L289.2,190.2 L289.8,190.5 L290.3,190.8 L290.8,189.2 L291.2,187.8 L291.7,186.3 L292.2,186.9 L292.8,187.2 L293.3,187.5 L293.8,187.8 L294.2,192.4 L294.7,193.7 L295.2,194.6 L295.8,196.6 L296.3,198.3 L296.9,198.9 L297.4,199.7 L298.0,200.8 L298.5,199.6 L299.0,198.6 L299.5,198.4 L300.0,197.5 L300.5,199.5 L301.0,194.7 L301.5,194.6 L302.0,194.5 L302.5,193.3 L303.0,193.2 L303.5,191.8 L304.0,191.9 L304.5,190.9 L305.0,190.8 L305.5,191.2 L306.0,191.7 L306.5,191.5 L307.0,192.3 L307.5,193.0 L307.9,192.0 L308.4,191.8 L308.8,191.1 L309.2,191.0 L309.7,191.3 L310.2,190.7 L310.8,190.1 L311.3,189.2 L311.9,191.2 L312.5,192.0 L313.0,192.0 L313.5,191.4 L314.0,191.9 L314.5,190.7 L315.0,190.8 L315.5,192.1 L316.0,192.4 L316.5,192.7 L317.0,193.3 L317.4,195.2 L317.9,197.0 L318.3,199.2 L318.8,198.5 L319.3,198.7 L319.8,198.8 L320.3,199.3 L320.8,199.2 L321.4,199.8 L321.9,200.2 L322.5,201.3 L322.9,197.1 L323.4,199.8 L323.8,199.1 L324.2,197.6 L324.7,196.7 L325.2,196.6 L325.7,196.6 L326.2,197.0 L326.7,197.5 L327.2,197.0 L327.7,196.8 L328.2,197.3 L328.7,196.9 L329.2,196.7 L329.7,196.9 L330.2,197.6 L330.7,198.1 L331.2,198.5 L331.7,198.7 L332.2,198.7 L332.7,199.4 L333.2,199.3 L333.7,199.0 L334.2,200.0 L334.7,202.0 L335.2,204.0 L335.7,202.9 L336.2,203.7 L336.7,205.0 L337.1,203.2 L337.6,202.0 L338.0,200.8 L338.5,202.0 L339.0,202.1 L339.5,203.2 L340.0,203.7 L340.6,203.8 L341.1,202.2 L341.7,200.8 L342.1,198.8 L342.6,195.7 L343.0,194.2 L343.5,193.6 L344.0,193.0 L344.5,190.6 L345.0,191.7 L345.5,191.1 L346.0,190.5 L346.5,190.0 L347.0,190.2 L347.5,190.3 L348.0,189.9 L348.5,191.7 L349.0,191.3 L349.5,191.8 L350.0,192.5 L350.5,194.1 L351.0,192.8 L351.5,192.7 L352.0,191.7 L352.5,191.3 L353.0,191.3 L353.5,190.9 L354.0,190.6 L354.5,189.7 L355.0,189.2 L355.6,187.4 L356.1,185.6 L356.7,184.2 L357.2,183.6 L357.7,183.0 L358.2,182.5 L358.7,181.5 L359.2,180.8 L359.7,180.4 L360.2,178.8 L360.7,178.5 L361.2,177.6 L361.7,177.5 L362.2,175.5 L362.8,174.9 L363.3,173.7 L363.8,173.1 L364.3,172.8 L364.8,174.1 L365.3,173.5 L365.8,173.0 L366.3,172.9 L366.8,173.5 L367.3,173.5 L367.8,174.7 L368.3,174.7 L368.8,174.7 L369.3,174.5 L369.8,174.6 L370.3,174.1 L370.8,174.2 L371.3,173.9 L371.7,174.3 L372.1,173.4 L372.6,172.9 L373.0,172.5 L373.5,173.2 L374.0,173.6 L374.5,174.2 L375.0,174.7 L375.5,170.6 L376.0,176.9 L376.5,173.6 L377.0,174.9 L377.5,173.3 L377.9,174.0 L378.4,177.3 L378.8,175.1 L379.2,175.4 L379.7,175.0 L380.2,172.6 L380.8,171.4 L381.3,170.8 L382.0,176.7 L382.4,177.7 L382.9,178.0 L383.3,178.8 L383.7,179.1 L384.2,178.3 L384.7,178.3 L385.2,178.5 L385.7,179.8 L386.2,183.6 L386.7,180.8 L387.2,180.3 L387.7,179.6 L388.2,179.7 L388.7,179.9 L389.2,180.0 L389.6,180.5 L390.0,180.3 L390.5,181.5 L390.9,182.2 L391.3,182.5 L391.8,182.8 L392.3,183.7 L392.8,184.4 L393.3,185.3 L393.8,185.7 L394.3,185.3 L394.8,185.5 L395.3,184.7 L395.9,186.5 L396.4,188.2 L397.0,189.2 L397.4,189.8 L397.9,191.9 L398.3,194.7 L398.9,195.1 L399.4,194.8 L400.0,195.0 L400.5,194.9 L401.0,194.4 L401.5,195.4 L402.0,195.6 L402.5,195.8 L402.9,196.2 L403.4,195.8 L403.8,197.1 L404.2,197.6 L404.7,197.5 L405.2,197.2 L405.7,197.5 L406.2,199.2 L406.7,199.2 L407.2,198.1 L407.8,197.4 L408.3,196.7 L408.8,197.3 L409.3,197.9 L409.8,197.7 L410.3,197.5 L410.8,198.3 L411.3,198.4 L411.7,198.8 L412.1,198.1 L412.6,197.8 L413.0,198.0 L413.8,193.3 L414.7,160.0 L415.2,160.3 L415.7,159.7 L416.2,159.8 L416.7,159.7 L417.2,160.5 L417.8,161.7 L418.3,162.5 L418.9,163.7 L419.4,164.9 L420.0,165.0 L420.4,162.7 L420.9,160.9 L421.3,160.3 L421.8,160.3 L422.3,160.3 L422.8,161.0 L423.3,162.0 L423.8,161.6 L424.3,162.2 L424.8,161.9 L425.3,162.3 L425.8,162.5 L426.3,163.4 L426.8,163.5 L427.3,164.0 L427.8,163.9 L428.3,164.2 L428.8,164.4 L429.3,163.4 L429.8,163.0 L430.3,162.7 L430.8,162.5 L431.3,161.2 L431.7,160.6 L432.1,160.4 L432.6,160.1 L433.0,159.2 L433.6,160.3 L434.2,162.0 L434.7,161.1 L435.2,161.2 L435.7,160.7 L436.2,161.3 L436.7,160.8 L437.2,161.7 L437.7,162.4 L438.2,161.8 L438.7,161.3 L439.2,161.3 L439.7,161.7 L440.2,162.1 L440.7,162.0 L441.2,161.2 L441.7,160.0 L442.2,160.1 L442.7,159.9 L443.2,159.3 L443.7,158.3 L444.1,157.5 L444.6,152.8 L445.0,155.0 L445.4,156.4 L445.9,157.7 L446.3,159.2 L446.9,156.6 L447.5,154.2 L447.9,152.7 L448.4,151.9 L448.8,150.8 L449.7,155.0 L450.2,158.5 L450.8,164.2 L451.4,167.9 L451.9,168.9 L452.5,170.8 L452.9,171.0 L453.4,172.0 L453.8,171.8 L454.2,173.2 L454.7,174.2 L455.2,175.1 L455.7,176.0 L456.2,177.0 L456.7,177.5 L457.1,178.0 L457.6,178.7 L458.1,178.6 L458.6,178.0 L459.0,178.1 L459.5,178.9 L460.0,178.7 L460.5,179.3 L461.0,180.4 L461.4,182.5 L461.9,179.7 L462.4,178.6 L462.9,178.2 L463.3,179.2 L463.8,180.5 L464.3,181.2 L464.8,182.3 L465.3,183.1 L465.8,184.2 L466.3,184.0 L466.8,183.8 L467.3,183.8 L467.7,183.9 L468.2,183.5 L468.7,182.2 L469.2,183.7 L469.7,183.8 L470.2,184.4 L470.7,184.4 L471.2,184.1 L471.7,184.2 L472.2,184.2 L472.7,184.1 L473.2,185.0 L473.7,185.5 L474.2,185.3 L474.6,185.8 L475.1,186.0 L475.6,186.4 L476.1,185.8 L476.5,185.9 L477.0,186.7 L477.5,186.3 L478.0,186.6 L478.5,187.1 L479.0,186.6 L479.5,187.6 L480.0,187.0 L480.6,187.8 L481.1,188.8 L481.7,189.7 L482.1,192.5 L482.6,189.4 L483.1,189.2 L483.6,189.3 L484.0,189.4 L484.5,189.4 L485.0,188.7 L485.5,188.8 L486.0,188.2 L486.5,188.7 L487.0,188.9 L487.5,188.3 L488.0,186.4 L488.5,189.2 L489.0,190.9 L489.5,193.7 L490.0,193.0 L490.4,190.7 L490.9,189.8 L491.3,189.2 L491.9,191.8 L492.5,194.2 L493.0,195.9 L493.5,196.1 L494.0,197.1 L494.5,197.1 L495.0,196.7 L495.6,196.9 L496.1,198.8 L496.7,200.0 L497.2,201.3 L497.8,202.6 L498.3,203.3 L498.8,203.8 L499.3,204.3 L499.8,205.1 L500.3,203.6 L500.8,206.7 L501.4,207.0 L501.9,207.7 L502.5,208.3 L503.1,209.8 L503.7,216.7 L504.1,218.9 L504.6,222.1 L505.0,225.0 L505.6,222.8 L506.1,220.7 L506.7,218.3 L507.2,218.4 L507.7,218.0 L508.2,217.0 L508.7,217.1 L509.2,217.0 L509.8,219.2 L510.3,220.0 L510.8,225.8 L511.3,230.0 L511.7,235.0 L512.2,235.3 L512.7,236.2 L513.2,237.6 L513.7,239.2 L514.2,239.2 L514.7,240.9 L515.2,241.4 L515.7,241.9 L516.2,243.4 L516.7,244.2 L517.2,245.0 L517.7,246.2 L518.2,246.9 L518.7,246.7 L519.2,247.5 L519.6,248.7 L520.1,249.0 L520.6,249.0 L521.1,250.2 L521.5,251.0 L522.0,251.3 L522.5,257.9 L523.0,263.3 L523.3,280.0 L523.7,293.3 L524.1,292.8 L524.6,291.0 L525.0,288.3 L525.6,288.1 L526.1,288.0 L526.7,287.5 L527.2,287.7 L527.8,288.6 L528.3,290.0 L528.8,290.4 L529.3,289.5 L529.8,289.1 L530.3,288.7 L530.8,288.7 L531.3,289.5 L531.7,289.0 L532.1,289.4 L532.6,289.8 L533.0,290.0 L533.6,291.2 L534.1,292.6 L534.7,294.2 L535.2,294.0 L535.7,293.6 L536.2,293.7 L536.7,293.3 L537.2,294.0 L537.7,295.1 L538.2,295.4 L538.7,295.8 L539.2,295.8 L539.8,296.7 L540.3,296.7 L541.2,302.5 L541.6,300.6 L542.1,298.8 L542.5,297.3 L543.0,296.7 L543.7,280.0 L544.2,274.6 L544.7,269.2 L545.2,268.8 L545.7,268.2 L546.2,268.0 L546.7,267.5 L547.2,267.6 L547.7,267.3 L548.2,267.4 L548.7,266.7 L549.2,266.7 L549.7,266.7 L550.2,267.4 L550.7,267.3 L551.2,268.0 L551.7,268.0 L552.2,266.5 L552.8,265.3 L553.3,264.2 L553.8,263.3 L554.3,263.4 L554.8,263.0 L555.3,263.3 L555.8,263.0 L556.4,262.2 L557.0,261.3 L557.4,261.9 L557.9,262.6 L558.3,262.7 L558.7,262.9 L559.2,263.3 L559.7,263.5 L560.2,263.3 L560.7,263.1 L561.2,263.9 L561.7,264.2 L562.1,264.0 L562.6,263.8 L563.1,264.1 L563.6,263.3 L564.0,262.7 L564.5,263.6 L565.0,263.3 L565.5,263.2 L566.0,263.5 L566.5,263.6 L567.0,263.6 L567.5,264.0 L568.0,264.2 L568.6,262.4 L569.1,260.7 L569.7,258.3 L570.2,255.3 L570.8,252.5 L571.3,251.9 L571.8,254.2 L572.3,251.8 L572.8,252.3 L573.3,251.7 L573.8,251.0 L574.2,250.3 L574.7,250.0 L575.2,252.1 L575.8,254.0 L576.3,255.8 L576.8,255.3 L577.3,255.1 L577.8,253.7 L578.3,253.3 L578.8,252.9 L579.3,252.5 L579.8,251.8 L580.3,250.6 L580.8,250.0 L581.3,249.7 L581.8,249.5 L582.3,249.3 L582.8,248.7 L583.3,248.7 L583.8,248.8 L584.3,248.9 L584.8,248.5 L585.2,248.8 L585.7,248.6 L586.2,248.8 L586.7,249.2 L587.1,248.8 L587.6,248.9 L588.1,249.7 L588.6,249.5 L589.0,249.3 L589.5,249.9 L590.0,249.7 L590.5,249.6 L590.9,249.1 L591.4,248.7 L591.9,248.3 L592.4,248.3 L592.8,248.3" stroke="#4D4D4D" stroke-width="2.6"/>
</g>
<path d="M61.2,50.4H65.8M61.2,176.35H65.8M61.2,302.3H65.8M61.2,428.25H65.8M61.2,554.25H65.8M66.0,579.3V583.7M174.8,579.3V583.7M284.0,579.3V583.7M393.1,579.3V583.7M502.3,579.3V583.7" stroke="#333" stroke-width="1.65" fill="none"/>
<g font-size="15.4" fill="#4D4D4D" stroke="#4D4D4D" stroke-width="0.25" text-anchor="end">
<text x="58.3" y="56.0">1.00</text>
<text x="58.3" y="181.9">0.75</text>
<text x="58.3" y="307.9">0.50</text>
<text x="58.3" y="433.9">0.25</text>
<text x="58.3" y="559.9">0.00</text>
</g>
<g font-size="15.4" fill="#4D4D4D" stroke="#4D4D4D" stroke-width="0.25" text-anchor="end">
<text transform="translate(71.5,586.6) rotate(-90)">2017</text>
<text transform="translate(180.3,586.6) rotate(-90)">2018</text>
<text transform="translate(289.5,586.6) rotate(-90)">2019</text>
<text transform="translate(398.6,586.6) rotate(-90)">2020</text>
<text transform="translate(507.8,586.6) rotate(-90)">2021</text>
</g>
<text transform="translate(17.0,302.2) rotate(-90)" font-size="16.4" text-anchor="middle" fill="#000" stroke="#000" stroke-width="0.25">Average R<tspan font-size="11.5" dy="-8.1">2</tspan></text>
<text x="65.3" y="13.2" font-size="18.2" font-weight="bold" fill="#000" stroke="#000" stroke-width="0.2">Panel A: Returns</text>
<rect x="673.8" y="25.2" width="526.2" height="554.3" fill="#EBEBEB"/>
<g clip-path="url(#cB)" stroke="#fff" fill="none">
<path d="M673.8,113.4H1200.0M673.8,239.35H1200.0M673.8,365.3H1200.0M673.8,491.25H1200.0M727.9,25.2V579.5M836.9,25.2V579.5M946.0,25.2V579.5M1055.2,25.2V579.5M1164.4,25.2V579.5" stroke-width="0.8"/>
<path d="M673.8,50.4H1200.0M673.8,176.35H1200.0M673.8,302.3H1200.0M673.8,428.25H1200.0M673.8,554.25H1200.0M673.5,25.2V579.5M782.3,25.2V579.5M891.5,25.2V579.5M1000.6,25.2V579.5M1109.8,25.2V579.5" stroke-width="1.45"/>
</g>
<g clip-path="url(#cB)" fill="none" stroke-width="2.7" stroke-linejoin="round">
<path d="M673.8,520.8 L674.4,518.8 L675.0,515.0 L675.4,516.9 L675.9,518.5 L676.3,519.2 L676.8,517.8 L677.3,515.8 L677.8,514.3 L678.3,512.5 L678.8,511.5 L679.2,509.5 L679.7,508.3 L680.0,498.3 L680.5,510.0 L681.0,519.2 L681.5,519.2 L681.9,518.4 L682.4,518.0 L682.9,517.2 L683.4,517.7 L683.8,517.5 L684.3,517.8 L684.8,518.0 L685.3,517.6 L685.7,516.7 L686.2,515.8 L686.7,519.3 L687.2,515.8 L687.6,515.9 L688.1,515.5 L688.6,516.0 L689.1,516.7 L689.5,517.2 L690.0,515.9 L690.5,515.3 L691.0,514.9 L691.5,514.9 L691.9,515.5 L692.4,516.3 L692.9,513.6 L693.4,517.1 L693.8,517.0 L694.4,519.0 L694.9,519.3 L695.5,520.8 L696.1,519.8 L696.6,518.2 L697.2,516.7 L697.7,515.2 L698.3,514.7 L698.8,512.5 L699.7,505.0 L700.0,495.8 L700.5,525.0 L701.3,518.3 L701.8,518.3 L702.3,518.5 L702.8,517.8 L703.3,517.7 L703.8,518.0 L704.3,518.8 L704.8,519.5 L705.3,518.6 L705.7,518.7 L706.2,518.4 L706.7,518.2 L707.2,517.5 L707.7,516.0 L708.2,515.1 L708.7,515.1 L709.2,515.1 L709.7,514.2 L710.5,503.3 L710.5,489.2 L711.1,492.3 L711.7,494.2 L712.2,495.4 L712.8,496.3 L713.3,497.5 L713.8,498.3 L714.3,498.5 L714.8,498.8 L715.3,498.7 L715.8,499.2 L716.3,499.2 L716.8,499.5 L717.3,499.3 L717.8,499.6 L718.2,499.4 L718.7,499.3 L719.2,499.5 L719.7,499.7 L720.1,500.4 L720.6,499.7 L721.1,499.0 L721.6,498.5 L722.0,498.5 L722.5,497.7 L723.0,498.7 L723.5,498.3 L724.0,498.4 L724.4,498.4 L724.9,498.3 L725.4,497.9 L725.9,498.6 L726.3,498.0 L726.8,497.5 L727.2,497.3 L727.7,496.5 L728.1,496.8 L728.6,496.3 L729.1,496.8 L729.5,496.6 L730.0,496.1 L730.4,496.1 L730.9,496.3 L731.3,496.7 L731.8,497.3 L732.3,497.5 L732.8,498.6 L733.3,499.1 L733.8,500.0 L734.3,500.8 L734.8,501.3 L735.3,500.7 L735.8,500.5 L736.3,500.3 L736.8,499.7 L737.3,499.6 L737.8,498.9 L738.3,498.2 L738.8,498.3 L739.3,497.5 L739.8,496.7 L740.3,497.4 L740.8,498.6 L741.3,498.0 L741.8,498.8 L742.3,499.1 L742.8,499.2 L743.2,498.6 L743.7,498.4 L744.2,498.6 L744.7,498.7 L745.1,499.0 L745.6,498.8 L746.1,499.8 L746.6,499.6 L747.0,500.0 L747.5,500.5 L748.0,500.0 L748.5,501.1 L749.0,501.3 L749.5,503.7 L750.0,501.9 L750.5,502.5 L751.0,502.0 L751.5,501.3 L751.9,499.9 L752.4,500.5 L752.9,499.8 L753.4,500.8 L753.8,502.0 L754.3,501.9 L754.8,501.0 L755.3,501.5 L755.7,501.8 L756.2,502.9 L756.7,503.5 L757.2,504.2 L757.6,504.7 L758.1,505.1 L758.6,504.6 L759.1,503.9 L759.5,504.5 L760.0,504.4 L760.5,505.0 L761.0,507.3 L761.4,505.2 L761.9,505.7 L762.4,507.5 L762.8,507.0 L763.3,506.9 L763.7,507.5 L764.2,507.9 L764.7,507.0 L765.1,506.9 L765.6,507.6 L766.1,510.8 L766.6,507.7 L767.0,507.8 L767.5,508.3 L768.0,508.3 L768.5,508.4 L769.0,508.3 L769.4,508.7 L769.9,508.4 L770.4,508.1 L770.9,508.0 L771.3,508.7 L771.8,508.2 L772.3,508.2 L772.8,509.0 L773.3,508.9 L773.8,508.4 L774.3,508.7 L774.9,505.8 L775.5,501.7 L776.3,493.0 L777.2,498.3 L777.6,498.6 L778.1,499.9 L778.6,499.9 L779.0,500.6 L779.5,500.6 L779.9,500.2 L780.4,500.0 L780.9,500.1 L781.3,499.2 L781.8,496.8 L782.3,500.4 L782.8,499.9 L783.2,501.0 L783.7,501.0 L784.2,501.4 L784.7,501.3 L785.1,501.5 L785.6,501.7 L786.1,502.1 L786.6,502.8 L787.0,503.0 L787.5,503.3 L788.0,503.0 L788.5,502.2 L788.9,502.6 L789.4,501.9 L789.9,502.4 L790.3,502.9 L790.8,503.8 L791.2,503.8 L791.7,503.7 L792.2,504.2 L792.6,503.7 L793.1,504.3 L793.6,504.5 L794.1,504.6 L794.5,505.6 L795.0,504.5 L795.5,504.7 L796.0,504.3 L796.4,504.0 L796.9,503.9 L797.4,504.2 L797.8,504.8 L798.3,504.9 L798.7,504.9 L799.2,505.1 L799.7,504.7 L800.1,504.5 L800.6,504.9 L801.1,504.7 L801.6,504.8 L802.0,504.3 L802.5,504.8 L803.0,505.0 L803.5,505.3 L804.0,505.3 L804.5,505.1 L805.0,504.2 L805.5,504.2 L806.0,503.7 L806.5,503.4 L807.0,503.8 L807.5,503.9 L808.0,503.7 L808.8,495.0 L809.2,485.8 L809.7,494.2 L810.1,494.4 L810.6,493.9 L811.1,494.4 L811.6,494.8 L812.0,494.3 L812.5,494.8 L813.0,494.7 L813.5,494.4 L814.0,494.5 L814.4,495.5 L814.9,497.4 L815.4,495.3 L815.9,495.4 L816.3,494.7 L816.8,493.7 L817.3,492.6 L817.8,491.9 L818.3,491.4 L818.8,490.8 L819.3,499.2 L819.9,499.3 L820.5,495.0 L821.0,495.4 L821.5,495.4 L821.9,497.4 L822.4,495.5 L822.9,495.4 L823.4,495.8 L823.8,495.8 L824.3,495.8 L824.8,495.3 L825.3,495.9 L825.8,495.8 L826.3,495.0 L826.8,494.7 L827.3,492.3 L827.8,493.4 L828.3,493.2 L828.8,493.0 L829.3,493.1 L829.8,491.9 L830.3,491.6 L830.7,490.8 L831.2,491.3 L831.7,491.2 L832.2,490.8 L832.7,490.5 L833.2,490.0 L833.7,490.3 L834.2,489.7 L834.7,488.3 L835.1,488.3 L835.6,487.4 L836.1,487.3 L836.6,486.3 L837.0,486.0 L837.5,486.4 L838.0,485.8 L838.5,484.9 L839.0,484.6 L839.4,484.5 L839.9,484.1 L840.4,484.0 L840.9,484.3 L841.3,483.3 L841.8,482.4 L842.3,481.4 L842.8,481.0 L843.3,480.4 L843.8,479.2 L844.3,478.3 L844.7,477.9 L845.1,477.7 L845.6,477.0 L846.0,475.8 L846.5,475.9 L847.0,475.1 L847.5,475.2 L848.0,474.7 L848.5,473.8 L849.0,474.2 L849.4,474.7 L849.9,474.4 L850.4,474.5 L850.9,474.2 L851.3,474.2 L851.8,474.0 L852.2,473.7 L852.7,472.8 L853.1,473.5 L853.6,473.4 L854.1,472.4 L854.5,472.3 L855.0,472.1 L855.4,471.6 L855.9,471.3 L856.3,470.8 L856.8,468.6 L857.3,467.8 L857.8,465.6 L858.3,463.8 L858.8,462.5 L859.3,462.5 L859.8,462.5 L860.3,462.8 L860.7,462.3 L861.2,461.7 L861.7,461.8 L862.2,461.3 L862.6,461.3 L863.1,461.1 L863.6,460.6 L864.0,460.5 L864.5,460.2 L864.9,460.7 L865.4,460.8 L865.9,460.8 L866.3,460.8 L866.8,460.7 L867.2,460.1 L867.7,458.9 L868.2,458.4 L868.6,458.3 L869.1,458.4 L869.5,457.3 L870.0,456.7 L870.5,455.9 L871.0,456.1 L871.4,455.4 L871.9,455.4 L872.4,455.4 L872.9,455.6 L873.3,455.3 L873.8,455.0 L874.3,454.0 L874.8,453.7 L875.3,453.0 L875.8,452.5 L876.3,452.8 L876.8,453.4 L877.3,454.1 L877.7,453.4 L878.2,453.9 L878.7,454.4 L879.2,454.2 L879.6,455.1 L880.1,456.6 L880.6,456.4 L881.1,456.3 L881.5,456.0 L882.0,455.8 L882.5,455.3 L883.1,452.8 L883.6,455.8 L884.2,456.7 L884.2,473.3 L884.7,488.3 L885.0,496.7 L885.0,513.3 L885.8,503.3 L886.4,504.7 L886.9,505.7 L887.5,505.8 L888.1,508.8 L888.7,511.7 L889.1,511.5 L889.5,512.0 L890.0,513.5 L890.4,513.6 L890.8,513.3 L891.3,513.4 L891.8,513.7 L892.3,513.7 L892.7,513.8 L893.2,514.7 L893.7,515.2 L894.2,515.8 L895.0,508.3 L895.5,507.6 L896.0,507.6 L896.5,507.8 L897.0,507.7 L897.5,507.5 L898.0,507.3 L898.5,506.9 L899.0,506.6 L899.5,508.8 L900.0,507.0 L900.5,508.2 L901.0,509.6 L901.5,511.4 L902.0,513.3 L902.5,514.2 L903.0,515.8 L903.5,515.9 L903.9,516.3 L904.4,516.1 L904.8,515.5 L905.3,515.7 L905.8,515.4 L906.2,518.4 L906.7,516.3 L907.1,520.0 L907.6,517.0 L908.1,516.3 L908.5,515.8 L909.0,515.8 L909.4,512.5 L909.9,515.4 L910.4,515.2 L910.8,515.3 L911.4,516.2 L911.9,517.0 L912.5,518.0 L913.0,518.6 L913.5,518.0 L913.9,516.8 L914.4,516.0 L914.9,516.3 L915.4,516.0 L915.8,515.8 L916.3,516.2 L916.8,516.3 L917.3,516.4 L917.7,516.2 L918.2,516.6 L918.7,515.5 L919.2,514.7 L919.7,514.7 L920.2,514.2 L920.7,517.9 L921.2,515.9 L921.7,517.0 L922.1,516.8 L922.6,517.1 L923.1,517.4 L923.6,516.4 L924.0,517.1 L924.5,516.3 L925.0,515.8 L925.5,516.0 L926.0,516.4 L926.4,517.0 L926.9,517.0 L927.4,516.7 L927.9,516.2 L928.3,516.7 L928.8,517.2 L929.3,516.1 L929.8,516.0 L930.3,516.1 L930.8,515.8 L931.7,510.8 L932.1,511.6 L932.6,511.6 L933.1,512.1 L933.6,512.9 L934.0,512.6 L934.5,511.9 L935.0,511.7 L935.5,512.9 L936.0,513.0 L936.4,513.6 L936.9,511.8 L937.4,513.2 L937.9,512.9 L938.3,513.0 L938.8,511.9 L939.3,511.8 L939.8,511.9 L940.2,512.0 L940.7,508.9 L941.2,511.5 L941.7,511.7 L942.1,510.7 L942.6,509.9 L943.1,509.5 L943.6,510.3 L944.0,509.9 L944.5,511.0 L945.0,510.0 L945.5,510.4 L946.0,513.5 L946.4,510.8 L946.9,510.6 L947.4,512.1 L947.9,511.8 L948.3,511.7 L948.8,511.3 L949.3,511.4 L949.8,510.0 L950.2,510.0 L950.7,509.4 L951.2,509.6 L951.7,509.2 L952.1,508.6 L952.6,508.1 L953.1,508.4 L953.6,508.3 L954.0,508.3 L954.5,507.5 L955.0,507.5 L955.5,504.5 L956.0,503.9 L956.4,506.8 L956.9,506.5 L957.4,506.5 L957.9,506.4 L958.3,505.8 L958.8,506.3 L959.3,506.1 L959.8,505.7 L960.2,505.2 L960.7,505.2 L961.2,504.9 L961.7,504.2 L962.2,500.8 L962.8,497.3 L963.3,493.3 L963.7,515.8 L964.1,514.6 L964.6,513.5 L965.0,512.5 L965.5,512.6 L966.0,511.7 L966.5,514.3 L967.0,511.3 L967.5,510.8 L968.1,508.5 L968.7,505.8 L969.1,506.7 L969.6,508.6 L970.0,510.0 L970.5,510.3 L971.0,508.9 L971.5,511.0 L972.0,512.0 L972.4,511.5 L972.9,510.4 L973.3,509.8 L973.7,508.9 L974.2,508.3 L974.6,507.4 L975.1,504.5 L975.6,507.1 L976.1,507.3 L976.5,507.8 L977.0,507.0 L977.5,506.7 L978.0,505.6 L978.4,505.2 L978.9,505.7 L979.4,506.3 L979.8,505.8 L980.3,505.3 L980.7,505.6 L981.2,506.0 L981.7,505.8 L982.2,506.8 L982.8,506.9 L983.3,508.0 L983.8,507.1 L984.3,506.0 L984.8,504.9 L985.3,503.3 L985.8,503.3 L986.3,503.5 L986.8,505.6 L987.3,506.2 L987.8,505.7 L988.3,505.8 L988.8,506.6 L989.3,506.2 L989.8,505.8 L990.3,506.2 L990.8,506.7 L991.3,505.8 L991.8,505.7 L992.3,505.3 L992.8,504.8 L993.3,504.2 L993.8,503.6 L994.3,502.3 L994.8,501.2 L995.3,500.8 L995.8,498.8 L996.3,496.7 L996.8,496.3 L997.3,496.5 L997.8,493.4 L998.3,495.0 L998.8,495.0 L999.3,495.2 L999.8,495.2 L1000.2,495.3 L1000.7,494.3 L1001.2,494.2 L1001.7,493.3 L1002.1,492.9 L1002.6,492.3 L1003.1,492.1 L1003.6,492.5 L1004.0,491.7 L1004.5,491.5 L1005.0,491.3 L1005.5,491.7 L1006.0,491.2 L1006.5,491.2 L1007.0,490.3 L1007.5,490.0 L1008.0,489.8 L1008.5,490.2 L1008.9,490.6 L1009.4,490.7 L1009.9,491.5 L1010.4,491.9 L1010.8,493.0 L1011.4,491.2 L1011.9,491.0 L1012.5,489.7 L1013.0,488.6 L1013.5,488.8 L1013.9,488.7 L1014.4,490.2 L1014.9,490.4 L1015.4,490.0 L1015.8,490.8 L1016.3,491.2 L1016.8,491.3 L1017.3,491.4 L1017.7,491.0 L1018.2,491.1 L1018.7,489.7 L1019.2,490.0 L1019.7,491.4 L1020.3,493.6 L1020.8,495.8 L1021.3,505.8 L1021.7,513.3 L1021.3,532.5 L1021.7,518.3 L1022.2,517.8 L1022.8,517.2 L1023.3,516.7 L1023.8,516.8 L1024.2,516.9 L1024.7,516.8 L1025.1,516.7 L1025.6,516.8 L1026.1,516.7 L1026.5,516.6 L1027.0,516.7 L1027.4,516.7 L1027.9,516.7 L1028.3,516.7 L1028.8,516.7 L1029.2,516.7 L1029.7,516.6 L1030.1,516.7 L1030.6,516.6 L1031.1,516.9 L1031.5,517.1 L1032.0,517.1 L1032.4,517.0 L1032.9,516.8 L1033.3,516.7 L1033.8,516.7 L1034.2,516.7 L1034.7,516.8 L1035.1,516.7 L1035.6,516.7 L1036.1,516.6 L1036.5,516.6 L1037.0,516.6 L1037.4,516.6 L1037.9,516.5 L1038.3,516.7 L1038.9,518.8 L1039.4,520.9 L1040.0,523.0 L1040.5,523.0 L1041.0,522.9 L1041.4,523.1 L1041.9,523.0 L1042.4,523.0 L1042.9,522.9 L1043.3,523.0 L1043.8,522.9 L1044.2,522.9 L1044.7,522.7 L1045.1,522.8 L1045.6,522.6 L1046.1,522.5 L1046.5,522.5 L1047.0,522.5 L1047.4,522.4 L1047.9,522.5 L1048.3,522.5 L1048.8,522.4 L1049.2,522.3 L1049.7,522.2 L1050.1,522.2 L1050.6,522.1 L1051.1,522.1 L1051.5,522.0 L1052.0,522.1 L1052.4,522.2 L1052.9,522.0 L1053.3,522.0 L1053.8,522.0 L1054.2,521.8 L1054.7,521.7 L1055.1,521.7 L1055.6,521.6 L1056.1,521.6 L1056.5,521.7 L1057.0,521.8 L1057.4,521.8 L1057.9,521.7 L1058.3,521.7 L1058.8,521.7 L1059.2,521.7 L1059.7,521.7 L1060.1,521.6 L1060.6,521.6 L1061.1,521.6 L1061.5,521.6 L1062.0,521.7 L1062.4,521.6 L1062.9,521.6 L1063.3,521.7 L1063.8,521.6 L1064.2,521.6 L1064.7,521.5 L1065.1,521.2 L1065.6,521.3 L1066.1,521.3 L1066.5,521.3 L1067.0,521.2 L1067.4,521.2 L1067.9,521.3 L1068.3,521.3 L1068.8,521.4 L1069.2,521.4 L1069.7,521.4 L1070.1,521.5 L1070.6,521.4 L1071.1,521.3 L1071.5,521.4 L1072.0,521.4 L1072.4,521.4 L1072.9,521.5 L1073.3,521.3 L1073.8,521.1 L1074.2,520.9 L1074.7,520.9 L1075.1,520.7 L1075.6,520.5 L1076.1,520.4 L1076.5,520.3 L1077.0,520.3 L1077.4,520.1 L1077.9,520.1 L1078.3,520.0 L1078.8,520.0 L1079.2,520.1 L1079.7,520.1 L1080.1,520.1 L1080.6,520.1 L1081.1,520.1 L1081.5,520.0 L1082.0,519.8 L1082.4,520.0 L1082.9,520.0 L1083.3,520.0 L1083.8,519.9 L1084.2,519.9 L1084.7,519.7 L1085.1,519.8 L1085.6,519.8 L1086.1,519.7 L1086.5,519.6 L1087.0,519.6 L1087.4,519.6 L1087.9,519.6 L1088.3,519.7 L1088.8,519.7 L1089.2,519.6 L1089.7,522.0 L1090.1,519.6 L1090.6,519.7 L1091.1,519.7 L1091.5,519.7 L1092.0,519.6 L1092.4,519.7 L1092.9,519.6 L1093.3,519.7 L1093.8,519.7 L1094.3,519.8 L1094.7,519.9 L1095.2,520.1 L1095.6,520.2 L1096.1,520.3 L1096.6,520.4 L1097.0,520.6 L1097.5,520.8 L1098.3,513.3 L1098.8,513.3 L1099.3,513.1 L1099.8,512.8 L1100.3,512.6 L1100.8,512.5 L1101.3,512.3 L1101.8,512.2 L1102.3,512.2 L1102.7,512.1 L1103.2,512.0 L1103.7,512.0 L1104.2,512.0 L1104.7,512.3 L1105.2,512.3 L1105.7,512.4 L1106.2,512.6 L1106.7,512.5 L1107.2,512.2 L1107.7,511.7 L1108.2,511.3 L1108.7,511.1 L1109.2,510.8 L1110.0,507.0 L1110.6,508.3 L1111.1,509.6 L1111.7,510.8 L1112.2,511.0 L1112.7,511.2 L1113.2,511.5 L1113.7,511.5 L1114.2,511.7 L1114.7,512.1 L1115.2,512.7 L1115.7,513.2 L1116.2,513.6 L1116.7,514.2 L1117.2,515.4 L1117.8,513.8 L1118.3,517.5 L1118.8,517.6 L1119.3,517.8 L1119.8,518.1 L1120.3,518.3 L1120.8,518.3 L1121.3,519.1 L1121.7,519.7 L1122.1,520.4 L1122.6,521.0 L1123.0,521.7 L1123.5,521.5 L1124.0,521.3 L1124.5,521.1 L1125.0,520.8 L1125.5,520.9 L1126.0,521.1 L1126.4,521.3 L1126.9,521.4 L1127.4,521.5 L1127.9,521.6 L1128.3,521.7 L1128.8,516.2 L1129.2,510.6 L1129.7,505.0 L1130.0,480.0 L1130.3,505.0 L1130.8,528.3 L1131.4,527.5 L1131.9,526.7 L1132.5,525.8 L1133.0,526.2 L1133.5,526.5 L1134.0,526.9 L1134.5,527.2 L1135.0,527.5 L1135.5,527.6 L1136.0,527.7 L1136.4,527.9 L1136.9,528.1 L1137.4,528.1 L1137.9,528.2 L1138.3,528.3 L1138.8,528.3 L1139.3,528.4 L1139.8,528.4 L1140.2,528.4 L1140.7,528.5 L1141.2,528.4 L1141.7,528.3 L1142.1,528.6 L1142.6,528.8 L1143.1,529.0 L1143.6,529.2 L1144.0,529.4 L1144.5,529.5 L1145.0,529.7 L1145.5,529.4 L1146.0,529.1 L1146.5,528.8 L1147.0,528.5 L1147.5,528.3 L1148.1,528.9 L1148.6,529.5 L1149.2,530.0 L1149.7,532.3 L1150.3,534.5 L1150.8,536.7 L1151.4,534.6 L1152.0,532.5 L1152.4,532.7 L1152.9,532.8 L1153.3,532.9 L1153.7,533.1 L1154.2,533.3 L1154.6,533.3 L1155.1,533.3 L1155.6,533.4 L1156.1,533.5 L1156.5,533.5 L1157.0,533.5 L1157.5,533.7 L1158.0,533.8 L1158.5,534.2 L1158.9,534.3 L1159.4,534.6 L1159.9,537.5 L1160.4,535.2 L1160.8,535.3 L1161.3,535.6 L1161.8,535.9 L1162.3,536.4 L1162.7,536.7 L1163.2,537.1 L1163.7,537.1 L1164.2,537.5 L1164.6,537.4 L1165.1,537.5 L1165.6,537.7 L1166.1,537.9 L1166.5,538.0 L1167.0,538.1 L1167.5,538.3 L1168.0,538.4 L1168.4,538.4 L1168.9,538.3 L1169.4,538.5 L1169.8,538.5 L1170.3,538.5 L1170.7,538.4 L1171.2,538.4 L1171.7,538.3 L1172.1,538.4 L1172.6,538.5 L1173.1,538.4 L1173.5,538.3 L1174.0,538.4 L1174.4,538.4 L1174.9,538.3 L1175.4,540.0 L1175.8,538.3 L1176.7,530.8 L1177.2,530.5 L1177.7,530.3 L1178.2,530.1 L1178.7,530.0 L1179.2,529.7 L1179.6,529.6 L1180.1,529.4 L1180.6,529.1 L1181.1,528.9 L1181.5,528.7 L1182.0,528.5 L1182.5,528.3 L1183.0,528.5 L1183.4,528.5 L1183.9,528.6 L1184.4,528.7 L1184.8,528.7 L1185.3,528.7 L1185.7,528.7 L1186.2,528.7 L1186.7,528.7 L1187.1,528.6 L1187.6,528.7 L1188.0,528.7 L1188.5,528.7 L1188.9,528.9 L1189.4,528.9 L1189.9,528.9 L1190.3,529.0 L1190.8,528.9 L1191.2,528.9 L1191.7,528.8 L1192.1,528.9 L1192.6,528.8 L1193.0,528.7 L1193.5,528.7 L1193.9,528.8 L1194.4,528.8 L1194.9,528.7 L1195.3,528.6 L1195.8,528.6 L1196.2,528.6 L1196.7,528.7 L1197.1,528.5 L1197.6,528.6 L1198.1,528.6 L1198.6,528.7 L1199.0,528.7 L1199.5,528.7 L1200.0,528.7" stroke="#F8766D" stroke-dasharray="2.50 7.50 10.00 7.50"/>
<path d="M673.8,512.5 L674.4,511.2 L674.9,509.6 L675.5,510.0 L676.0,503.3 L676.6,501.5 L677.2,499.2 L677.7,497.5 L678.3,496.5 L678.8,496.7 L679.4,493.2 L679.9,494.1 L680.5,493.3 L681.0,492.6 L681.5,492.7 L681.9,493.4 L682.4,491.9 L682.9,491.0 L683.4,490.9 L683.8,489.2 L684.3,489.5 L684.8,485.9 L685.3,488.1 L685.8,487.9 L686.3,488.3 L686.8,490.9 L687.3,488.6 L687.8,488.5 L688.2,489.2 L688.7,489.3 L689.2,489.1 L689.7,489.2 L690.5,493.3 L691.0,493.9 L691.5,494.3 L692.0,497.2 L692.5,495.3 L693.0,495.8 L693.5,496.0 L694.0,496.0 L694.5,496.4 L695.0,497.2 L695.5,497.5 L696.0,498.7 L696.5,499.5 L697.0,500.8 L697.5,500.4 L698.0,500.0 L698.6,501.5 L699.1,502.7 L699.7,503.3 L700.0,488.3 L700.0,455.0 L700.5,453.3 L701.0,435.0 L701.3,425.0 L701.9,425.4 L702.4,429.8 L703.0,428.3 L703.5,428.1 L704.0,426.1 L704.5,429.1 L705.0,429.3 L705.5,429.2 L706.0,429.2 L706.5,430.4 L707.0,430.6 L707.5,431.1 L708.0,431.7 L708.6,433.0 L709.1,434.1 L709.7,435.0 L710.2,443.3 L711.0,450.8 L711.6,452.6 L712.2,454.2 L712.7,456.1 L713.3,459.2 L713.8,461.7 L714.7,468.3 L715.0,478.3 L715.0,490.0 L715.0,495.0 L715.5,503.3 L716.1,503.1 L716.6,503.5 L717.2,504.2 L717.6,504.8 L718.1,507.4 L718.6,504.8 L719.1,505.1 L719.5,504.9 L720.0,504.8 L720.5,504.7 L721.1,506.7 L721.6,504.0 L722.2,502.5 L723.0,498.7 L723.5,499.4 L724.0,498.3 L724.4,497.7 L724.9,497.2 L725.4,497.0 L725.9,498.0 L726.3,498.0 L726.8,498.3 L727.3,497.6 L727.8,497.4 L728.3,496.7 L728.8,497.5 L729.3,498.3 L729.8,498.6 L730.3,498.2 L730.8,501.1 L731.3,496.7 L732.2,492.5 L732.7,492.8 L733.2,494.6 L733.7,495.3 L734.2,495.4 L734.7,495.0 L735.1,494.1 L735.6,494.5 L736.1,495.4 L736.6,495.5 L737.0,495.2 L737.5,495.0 L738.0,494.7 L738.5,495.6 L739.0,495.1 L739.4,495.1 L739.9,495.9 L740.4,496.0 L740.9,495.6 L741.3,495.3 L741.8,495.3 L742.3,496.0 L742.8,499.1 L743.3,496.5 L743.8,495.8 L744.4,494.3 L744.9,493.4 L745.5,492.5 L746.0,493.6 L746.5,493.6 L747.0,493.2 L747.5,492.4 L748.0,490.8 L748.6,487.7 L749.2,485.0 L749.2,471.7 L749.3,457.5 L749.3,457.5 L749.8,456.8 L750.3,456.4 L750.8,456.0 L751.3,455.3 L751.8,454.5 L752.3,454.8 L752.8,454.9 L753.2,452.7 L753.7,456.0 L754.2,456.1 L754.7,455.8 L755.1,455.9 L755.6,455.2 L756.1,455.5 L756.6,456.5 L757.0,456.7 L757.5,457.2 L758.0,456.7 L758.5,458.3 L759.0,458.4 L759.5,459.2 L760.0,459.4 L760.5,460.0 L761.0,459.1 L761.5,460.4 L761.9,460.3 L762.4,460.3 L762.9,460.3 L763.4,460.6 L763.8,460.8 L764.3,460.8 L764.8,464.5 L765.3,461.4 L765.8,461.0 L766.3,461.7 L766.9,463.1 L767.4,464.9 L768.0,465.8 L768.5,466.1 L769.0,466.6 L769.4,466.5 L769.9,466.8 L770.4,466.7 L770.9,466.9 L771.3,467.5 L771.8,467.9 L772.3,468.3 L772.8,467.3 L773.2,467.5 L773.7,466.7 L774.2,467.9 L774.7,469.2 L775.5,475.0 L776.1,476.8 L776.6,478.7 L777.2,481.7 L777.7,484.1 L778.2,481.8 L778.7,483.9 L779.2,481.8 L779.7,480.8 L780.1,481.2 L780.6,480.4 L781.1,479.7 L781.6,479.9 L782.0,480.3 L782.5,478.3 L783.0,480.0 L783.5,479.4 L784.0,479.8 L784.5,479.4 L785.0,479.5 L785.5,479.2 L786.3,471.7 L786.8,471.2 L787.3,471.5 L787.8,471.8 L788.2,472.3 L788.7,473.0 L789.2,473.0 L789.7,472.0 L790.2,471.6 L790.7,471.5 L791.2,471.6 L791.7,472.4 L792.2,472.5 L792.7,471.6 L793.2,471.9 L793.7,470.6 L794.2,469.8 L794.7,469.2 L795.1,469.9 L795.6,470.5 L796.1,470.5 L796.6,470.6 L797.0,470.7 L797.5,469.1 L798.0,469.7 L798.5,468.6 L799.0,468.0 L799.4,468.1 L799.9,467.7 L800.4,467.4 L800.9,466.9 L801.3,466.3 L801.8,466.2 L802.3,465.7 L802.8,464.6 L803.3,463.3 L803.8,461.7 L804.4,458.0 L805.0,455.0 L805.4,453.3 L805.9,451.9 L806.3,450.8 L806.9,449.0 L807.4,446.3 L808.0,443.3 L808.8,450.8 L809.3,453.2 L809.8,450.2 L810.3,449.2 L810.8,449.0 L811.3,448.3 L811.8,447.0 L812.3,447.6 L812.8,446.7 L813.2,446.0 L813.7,445.7 L814.2,446.0 L814.7,446.7 L815.2,447.3 L815.7,446.4 L816.2,444.3 L816.7,443.0 L817.2,443.3 L817.7,442.3 L818.3,442.0 L818.8,440.8 L819.4,439.5 L819.9,438.4 L820.5,437.5 L821.0,437.1 L821.5,436.5 L822.0,435.9 L822.5,436.2 L823.0,435.0 L823.8,425.0 L824.3,420.0 L824.8,419.5 L825.3,418.4 L825.8,417.8 L826.3,417.5 L826.8,417.8 L827.3,416.1 L827.8,415.9 L828.3,415.8 L828.8,415.0 L829.3,413.9 L829.8,413.4 L830.3,413.0 L830.8,412.2 L831.3,412.5 L831.8,412.1 L832.3,410.5 L832.8,410.4 L833.2,410.2 L833.7,409.9 L834.2,409.7 L834.7,410.0 L835.1,410.0 L835.6,410.1 L836.1,410.2 L836.6,409.7 L837.0,409.0 L837.5,410.8 L838.0,408.3 L838.5,406.9 L839.0,406.9 L839.5,405.9 L840.0,406.2 L840.5,404.2 L841.1,403.0 L841.6,401.5 L842.2,400.0 L842.7,399.2 L843.2,398.9 L843.7,397.7 L844.2,396.9 L844.7,396.7 L845.2,396.3 L845.7,396.3 L846.2,395.5 L846.7,394.3 L847.2,393.0 L847.7,392.2 L848.2,392.2 L848.7,391.5 L849.2,392.1 L849.7,392.5 L850.2,392.3 L850.8,391.6 L851.3,390.8 L851.8,387.5 L852.2,387.4 L852.7,380.8 L853.2,381.5 L853.7,382.4 L854.2,383.5 L854.7,385.0 L855.2,388.7 L855.7,386.0 L856.2,386.0 L856.7,385.5 L857.2,385.8 L858.0,391.7 L858.3,405.0 L858.5,416.7 L858.6,416.6 L859.1,417.0 L859.6,417.0 L860.0,416.9 L860.5,416.4 L861.0,416.6 L861.5,416.7 L861.9,416.1 L862.4,417.2 L862.8,416.8 L863.3,416.3 L863.7,416.5 L864.2,415.6 L864.6,415.1 L865.1,414.6 L865.6,414.3 L866.1,414.0 L866.6,414.4 L867.0,414.2 L867.5,413.7 L867.8,405.0 L868.2,399.3 L868.7,398.8 L869.1,398.9 L869.5,398.5 L870.0,397.3 L870.4,397.1 L870.9,396.7 L871.4,396.4 L871.8,396.9 L872.3,396.8 L872.8,396.3 L873.3,396.4 L873.7,395.5 L874.2,394.9 L874.6,394.1 L875.0,394.0 L875.5,393.5 L875.6,384.8 L875.9,373.3 L876.3,372.5 L876.8,371.8 L877.2,370.0 L877.6,369.0 L878.1,367.6 L878.6,362.6 L879.1,363.9 L879.5,362.8 L879.9,362.6 L880.4,362.6 L880.8,362.0 L881.2,360.3 L881.9,360.0 L882.5,357.5 L883.0,350.0 L883.3,338.3 L883.7,326.7 L883.8,315.0 L883.8,303.3 L884.2,291.7 L884.7,280.0 L885.2,285.0 L885.8,290.0 L886.4,287.3 L886.9,285.0 L887.5,283.3 L888.1,281.0 L888.6,279.7 L889.2,279.2 L889.7,277.0 L890.3,275.6 L890.8,275.0 L891.7,287.5 L892.1,285.3 L892.6,283.1 L893.0,280.8 L893.7,274.2 L894.2,282.7 L894.7,292.5 L895.0,308.3 L895.3,321.7 L895.8,333.3 L896.4,332.3 L896.9,327.6 L897.5,330.0 L898.1,328.6 L898.6,328.5 L899.2,327.5 L899.8,329.4 L900.3,331.7 L900.8,336.1 L901.3,338.3 L901.8,340.7 L902.3,341.8 L902.8,343.2 L903.3,344.2 L903.9,342.4 L904.4,343.8 L905.0,338.3 L905.5,337.5 L906.0,336.8 L906.5,335.8 L907.0,335.8 L907.5,335.0 L908.0,335.0 L908.5,334.3 L909.0,333.5 L909.5,333.1 L910.0,331.7 L910.3,323.3 L910.8,321.5 L911.2,320.3 L911.7,319.2 L912.1,319.4 L912.6,319.3 L913.1,320.3 L913.6,319.0 L914.0,320.4 L914.5,318.6 L915.0,318.3 L915.5,317.4 L916.0,317.1 L916.4,316.7 L916.9,315.6 L917.4,315.1 L917.9,315.1 L918.3,314.2 L918.8,312.5 L919.3,314.7 L919.8,314.2 L920.3,314.9 L920.8,315.0 L921.3,314.8 L921.8,314.3 L922.3,314.7 L922.8,314.1 L923.3,313.3 L923.8,313.2 L924.3,313.1 L924.8,312.6 L925.2,312.4 L925.7,311.1 L926.2,312.3 L926.7,313.0 L927.2,313.4 L927.7,312.8 L928.2,312.8 L928.7,312.9 L929.2,312.5 L929.8,309.0 L930.3,305.8 L930.8,313.9 L931.3,318.3 L931.8,317.9 L932.3,317.9 L932.8,317.9 L933.2,317.5 L933.7,318.4 L934.2,316.7 L934.6,316.5 L935.1,316.3 L935.6,316.6 L936.1,316.4 L936.5,316.9 L937.0,319.4 L937.5,317.0 L938.0,317.5 L938.5,317.5 L938.9,317.7 L939.4,317.8 L939.9,317.7 L940.4,317.4 L940.8,318.0 L941.3,317.6 L941.8,318.7 L942.3,318.6 L942.8,318.7 L943.3,319.2 L943.8,320.1 L944.3,320.8 L944.8,321.3 L945.3,321.4 L945.8,321.7 L946.4,322.8 L946.9,323.8 L947.5,325.8 L948.1,327.2 L948.6,327.5 L949.2,328.3 L949.8,325.6 L950.3,322.5 L950.8,323.0 L951.3,322.9 L951.8,323.0 L952.2,322.4 L952.7,322.4 L953.2,321.7 L953.7,322.1 L954.2,321.7 L954.6,321.6 L955.1,321.7 L955.6,321.5 L956.1,321.8 L956.5,321.5 L957.0,321.1 L957.5,320.8 L958.0,321.6 L958.5,320.8 L958.9,320.3 L959.4,323.2 L959.9,317.9 L960.4,320.5 L960.8,320.0 L961.4,318.9 L961.9,316.8 L962.5,315.8 L963.1,314.6 L963.6,312.0 L964.2,310.8 L964.7,310.8 L965.2,311.5 L965.7,311.9 L966.2,312.2 L966.7,313.3 L967.2,316.6 L967.7,315.7 L968.2,316.9 L968.7,317.5 L969.2,312.0 L969.7,305.8 L970.2,301.7 L970.8,297.5 L971.4,297.4 L971.9,296.9 L972.5,296.3 L973.1,296.7 L973.6,297.8 L974.2,299.2 L974.7,299.8 L975.2,301.0 L975.7,302.0 L976.2,301.7 L976.7,301.7 L977.1,302.1 L977.6,302.2 L978.1,302.2 L978.6,302.2 L979.0,300.3 L979.5,303.1 L980.0,303.0 L980.5,303.9 L981.0,304.4 L981.4,304.1 L981.9,304.0 L982.4,303.3 L982.9,304.0 L983.3,304.7 L983.8,305.0 L984.3,305.0 L984.8,305.4 L985.3,305.8 L985.8,305.8 L986.4,307.7 L986.9,309.2 L987.5,310.0 L988.0,309.8 L988.5,309.3 L989.0,309.6 L989.5,308.9 L990.0,308.0 L990.5,308.0 L991.0,306.7 L991.4,305.5 L991.9,305.3 L992.4,303.6 L992.9,302.1 L993.3,301.7 L993.8,301.4 L994.3,301.9 L994.8,301.4 L995.2,298.9 L995.7,300.5 L996.2,300.8 L996.7,300.8 L997.1,301.4 L997.6,298.3 L998.1,300.7 L998.6,300.7 L999.0,300.4 L999.5,300.1 L1000.0,300.0 L1000.5,300.8 L1001.0,301.4 L1001.5,302.0 L1002.0,302.5 L1002.5,305.5 L1003.0,308.3 L1003.6,311.7 L1004.2,315.0 L1004.7,326.7 L1005.0,335.8 L1005.5,335.9 L1006.0,336.4 L1006.5,335.5 L1007.0,337.3 L1007.5,335.8 L1008.1,335.6 L1008.6,334.7 L1009.2,334.2 L1009.8,336.4 L1010.3,338.3 L1010.8,337.2 L1011.2,338.1 L1011.7,332.5 L1012.2,332.4 L1012.7,332.3 L1013.2,332.9 L1013.7,334.2 L1014.2,334.2 L1014.7,334.4 L1015.2,333.7 L1015.7,334.2 L1016.2,333.7 L1016.7,334.7 L1017.2,334.3 L1017.7,333.7 L1018.2,333.6 L1018.7,333.5 L1019.2,333.0 L1019.8,330.5 L1020.3,328.3 L1020.8,323.3 L1021.3,303.3 L1021.3,286.7 L1021.3,270.0 L1021.7,175.0 L1022.0,115.0 L1022.5,114.2 L1023.1,116.3 L1023.7,118.3 L1024.1,119.7 L1024.6,121.1 L1025.0,122.5 L1025.5,122.0 L1026.0,121.5 L1026.5,121.0 L1027.0,120.5 L1027.5,120.0 L1028.0,119.9 L1028.5,119.7 L1028.9,119.6 L1029.4,119.6 L1029.9,119.4 L1030.4,121.5 L1030.8,119.2 L1031.3,119.3 L1031.8,119.4 L1032.2,119.5 L1032.7,119.6 L1033.1,119.7 L1033.6,119.8 L1034.1,119.9 L1034.5,120.1 L1035.0,120.3 L1035.5,120.4 L1035.9,120.6 L1036.4,120.7 L1036.8,120.7 L1037.3,120.8 L1037.8,121.0 L1038.2,121.1 L1038.7,121.3 L1039.1,119.4 L1039.6,117.6 L1040.0,115.8 L1040.5,115.6 L1041.0,115.4 L1041.4,114.9 L1041.9,114.6 L1042.4,114.4 L1042.9,114.0 L1043.3,113.7 L1043.8,113.7 L1044.2,113.5 L1044.7,113.5 L1045.1,113.4 L1045.6,113.4 L1046.1,113.4 L1046.5,113.3 L1047.0,113.3 L1047.4,113.3 L1047.9,113.3 L1048.3,113.3 L1048.8,113.3 L1049.3,113.1 L1049.7,113.0 L1050.2,113.0 L1050.6,112.9 L1051.1,112.8 L1051.6,112.7 L1052.0,112.6 L1052.5,112.5 L1053.0,112.0 L1053.5,111.5 L1054.0,110.8 L1054.5,110.4 L1055.0,109.7 L1055.4,109.3 L1055.9,108.8 L1056.3,108.3 L1056.7,116.7 L1057.0,126.7 L1057.2,136.7 L1057.7,135.9 L1058.2,135.1 L1058.7,134.3 L1059.2,133.3 L1059.6,133.5 L1060.1,133.8 L1060.6,133.9 L1061.1,134.1 L1061.5,134.4 L1062.0,134.8 L1062.5,135.0 L1063.0,135.2 L1063.4,135.4 L1063.9,135.5 L1064.4,135.7 L1064.8,135.9 L1065.3,136.0 L1065.7,136.2 L1066.2,136.5 L1066.7,136.7 L1067.1,137.0 L1067.6,137.2 L1068.1,137.4 L1068.6,137.7 L1069.0,137.9 L1069.5,138.1 L1070.0,138.3 L1070.6,139.5 L1071.1,140.5 L1071.7,141.7 L1072.5,148.3 L1073.0,148.8 L1073.5,149.4 L1074.0,149.9 L1074.5,150.3 L1075.0,150.8 L1075.5,150.7 L1076.0,150.8 L1076.5,150.8 L1077.0,150.8 L1077.5,142.5 L1078.0,142.4 L1078.5,142.2 L1079.0,141.9 L1079.5,141.6 L1080.0,141.3 L1080.5,141.3 L1080.9,141.3 L1081.4,141.4 L1081.9,141.3 L1082.3,141.3 L1082.8,141.2 L1083.2,141.1 L1083.7,141.0 L1084.2,140.8 L1084.6,140.7 L1085.1,140.7 L1085.6,140.6 L1086.0,140.5 L1086.5,140.3 L1086.9,140.2 L1087.4,140.2 L1087.9,140.0 L1088.3,140.0 L1088.8,139.8 L1089.3,139.6 L1089.7,139.6 L1090.2,139.6 L1090.6,139.6 L1091.1,139.5 L1091.6,139.5 L1092.0,139.3 L1092.5,139.2 L1093.0,139.4 L1093.5,139.5 L1093.9,139.9 L1094.4,140.0 L1094.9,140.3 L1095.4,140.5 L1095.8,140.8 L1096.4,141.7 L1096.9,142.6 L1097.5,143.3 L1098.0,153.3 L1098.3,163.3 L1098.7,175.0 L1098.7,175.8 L1099.1,176.6 L1099.5,177.5 L1100.0,178.3 L1100.4,179.1 L1100.8,180.0 L1101.3,180.1 L1101.8,180.3 L1102.3,180.4 L1102.8,180.6 L1103.3,180.8 L1103.8,181.3 L1104.3,181.7 L1104.8,182.2 L1105.3,182.7 L1105.8,183.3 L1106.4,185.0 L1107.0,186.7 L1107.5,196.7 L1108.1,198.1 L1108.6,199.4 L1109.2,200.8 L1110.0,208.3 L1110.4,210.5 L1110.9,212.9 L1111.3,215.0 L1112.0,222.5 L1112.5,230.0 L1113.3,220.0 L1113.8,219.4 L1114.2,218.8 L1114.7,218.0 L1115.2,218.6 L1115.7,219.4 L1116.2,220.1 L1116.7,220.8 L1117.1,222.8 L1117.6,224.6 L1118.0,226.7 L1118.5,227.1 L1119.0,227.6 L1119.5,228.0 L1120.0,228.3 L1120.5,228.9 L1121.0,229.6 L1121.5,230.2 L1122.0,230.8 L1122.5,234.6 L1123.0,238.3 L1123.6,240.9 L1124.2,243.3 L1124.6,244.0 L1125.0,244.4 L1125.5,244.9 L1125.9,245.4 L1126.3,245.8 L1126.8,246.0 L1127.3,246.2 L1127.8,246.3 L1128.2,246.4 L1128.7,246.5 L1129.2,246.7 L1129.8,247.5 L1130.4,248.3 L1130.5,353.3 L1130.4,385.0 L1129.8,396.7 L1130.0,405.0 L1130.3,410.8 L1130.8,412.2 L1131.2,413.5 L1131.7,415.0 L1132.5,423.3 L1132.5,429.2 L1133.0,429.1 L1133.5,429.2 L1133.9,429.3 L1134.4,429.4 L1134.9,429.4 L1135.4,429.4 L1135.8,429.7 L1136.3,430.0 L1136.8,430.4 L1137.3,430.7 L1137.8,431.3 L1138.3,431.7 L1138.8,432.2 L1139.3,432.5 L1139.8,433.0 L1140.3,433.4 L1140.8,433.7 L1141.3,433.7 L1141.8,433.7 L1142.3,433.8 L1142.7,433.9 L1143.2,433.8 L1143.7,434.0 L1144.2,434.2 L1144.7,434.1 L1145.2,434.0 L1145.7,433.7 L1146.2,433.4 L1146.7,433.3 L1147.2,434.0 L1147.7,434.5 L1148.2,435.2 L1148.7,436.0 L1149.2,436.7 L1150.0,428.3 L1150.8,415.0 L1150.8,375.0 L1151.2,353.3 L1151.7,344.2 L1152.2,344.6 L1152.7,344.9 L1153.2,345.2 L1153.7,345.5 L1154.2,345.8 L1154.7,346.1 L1155.2,346.3 L1155.7,346.4 L1156.2,346.5 L1156.7,346.7 L1157.2,346.9 L1157.7,347.2 L1158.2,347.3 L1158.7,347.5 L1159.2,349.5 L1159.7,348.0 L1160.2,347.2 L1160.7,346.4 L1161.2,345.6 L1161.7,344.7 L1162.1,344.7 L1162.6,344.7 L1163.1,344.6 L1163.6,344.4 L1164.0,344.3 L1164.5,344.3 L1165.0,344.2 L1165.5,344.2 L1166.0,344.1 L1166.4,344.0 L1166.9,344.0 L1167.4,344.0 L1167.9,344.0 L1168.3,344.2 L1168.8,344.0 L1169.3,343.9 L1169.8,343.7 L1170.2,343.6 L1170.7,343.5 L1171.2,343.4 L1171.7,343.3 L1172.1,343.4 L1172.6,343.4 L1173.1,343.2 L1173.6,343.1 L1174.0,343.2 L1174.5,343.2 L1175.0,343.3 L1175.5,343.2 L1176.0,343.0 L1176.4,342.9 L1176.9,342.8 L1177.4,342.7 L1177.9,342.6 L1178.3,342.5 L1178.8,342.3 L1179.3,342.3 L1179.8,342.0 L1180.3,341.8 L1180.8,341.7 L1181.4,341.0 L1181.9,340.3 L1182.5,339.7 L1183.1,339.4 L1183.6,338.7 L1184.2,338.3 L1184.6,338.3 L1185.1,338.3 L1185.6,338.3 L1186.1,338.2 L1186.5,338.0 L1187.0,337.9 L1187.5,338.0 L1188.0,338.1 L1188.4,338.2 L1188.9,338.2 L1189.4,338.4 L1189.8,338.3 L1190.3,338.4 L1190.7,338.6 L1191.2,338.6 L1191.7,338.7 L1192.1,338.7 L1192.6,338.7 L1193.0,338.9 L1193.5,338.9 L1193.9,339.0 L1194.4,339.0 L1194.9,339.0 L1195.3,339.2 L1195.8,339.2 L1196.2,339.2 L1196.7,339.2 L1197.1,339.2 L1197.6,339.2 L1198.1,339.1 L1198.6,339.2 L1199.0,339.2 L1199.5,339.3 L1200.0,339.2" stroke="#00B0F6" stroke-dasharray="5.00 5.00 15.00 5.00"/>
<path d="M673.8,479.2 L674.7,471.7 L675.2,469.6 L675.8,467.9 L676.3,465.0 L676.8,463.4 L677.2,462.6 L677.7,460.8 L678.2,461.5 L678.8,461.7 L679.7,440.8 L680.5,460.0 L681.1,461.5 L681.6,459.7 L682.2,455.0 L682.7,454.8 L683.3,452.1 L683.8,452.5 L684.3,451.0 L684.8,452.1 L685.3,451.2 L685.8,450.7 L686.3,450.0 L686.8,450.3 L687.3,449.8 L687.8,448.9 L688.3,450.4 L688.8,449.7 L689.4,450.3 L689.9,451.3 L690.5,451.7 L691.3,455.8 L691.9,455.1 L692.4,454.2 L693.0,454.2 L693.4,456.2 L693.9,458.4 L694.3,460.0 L694.9,462.4 L695.5,464.2 L696.1,462.9 L696.6,462.0 L697.2,460.8 L697.7,460.0 L698.3,458.5 L698.8,457.5 L699.7,438.3 L700.2,388.3 L700.8,389.2 L701.3,391.7 L701.8,391.8 L702.3,392.3 L702.8,392.7 L703.3,392.3 L703.8,392.5 L704.3,392.8 L704.8,392.7 L705.2,391.7 L705.7,391.5 L706.2,391.7 L706.7,391.3 L707.1,391.4 L707.5,392.7 L708.0,392.9 L708.4,393.0 L708.8,393.3 L709.7,400.0 L710.5,388.3 L711.1,391.1 L711.7,393.3 L712.2,396.5 L712.7,399.2 L713.3,394.2 L713.8,396.9 L714.3,401.7 L715.0,421.7 L715.5,450.0 L716.0,449.5 L716.5,449.7 L717.0,450.0 L717.5,449.9 L718.0,449.2 L718.5,449.8 L719.0,450.6 L719.5,450.5 L720.0,450.8 L720.5,450.8 L721.1,450.1 L721.6,449.5 L722.2,448.3 L722.7,446.6 L723.3,445.1 L723.8,443.3 L724.3,443.0 L724.7,442.2 L725.1,441.4 L725.6,439.9 L726.0,440.0 L726.5,440.5 L726.9,440.5 L727.4,440.7 L727.9,440.1 L728.4,439.8 L728.8,439.7 L729.3,438.9 L729.8,439.1 L730.3,439.2 L730.8,438.6 L731.3,439.2 L732.2,435.8 L732.8,437.3 L733.3,440.0 L733.8,440.4 L734.3,440.2 L734.8,440.8 L735.3,441.1 L735.8,441.6 L736.3,441.7 L736.8,441.4 L737.3,441.0 L737.8,440.6 L738.3,440.7 L738.8,440.8 L739.4,439.7 L739.9,438.5 L740.5,438.7 L741.1,439.2 L741.6,439.6 L742.2,439.7 L742.6,439.4 L743.0,439.0 L743.5,438.6 L743.9,438.0 L744.3,437.5 L744.8,434.9 L745.3,436.4 L745.8,436.0 L746.3,435.8 L746.8,435.7 L747.3,436.1 L747.8,435.6 L748.3,435.9 L748.8,435.3 L749.3,416.7 L749.7,401.7 L750.2,404.1 L750.7,402.1 L751.2,401.4 L751.7,400.8 L752.2,402.5 L752.7,402.4 L753.2,403.0 L753.7,403.9 L754.2,403.8 L754.7,403.7 L755.1,402.8 L755.6,403.0 L756.1,402.4 L756.6,402.8 L757.0,402.7 L757.5,402.8 L758.0,403.3 L758.4,404.9 L758.9,406.3 L759.3,407.5 L759.7,413.0 L760.2,412.7 L760.7,413.4 L761.2,413.5 L761.7,413.3 L762.2,413.7 L762.7,413.3 L763.2,413.4 L763.7,412.8 L764.2,413.2 L764.7,413.3 L765.2,413.8 L765.7,412.2 L766.2,414.5 L766.7,414.7 L767.2,415.0 L767.7,419.2 L768.2,420.4 L768.7,421.0 L769.2,420.9 L769.7,421.3 L770.2,421.6 L770.7,421.9 L771.2,421.3 L771.7,422.1 L772.2,423.3 L772.7,423.7 L773.2,423.3 L773.7,423.8 L774.2,421.2 L774.7,424.2 L775.5,430.0 L776.3,411.3 L777.2,425.0 L777.7,424.1 L778.3,423.3 L778.8,422.5 L779.3,419.5 L779.8,423.2 L780.3,423.8 L780.8,424.7 L781.3,425.0 L781.8,425.3 L782.3,425.0 L782.8,426.2 L783.3,427.1 L783.8,427.5 L784.4,427.9 L784.9,427.9 L785.5,427.5 L786.3,420.3 L786.8,421.3 L787.3,420.7 L787.8,421.1 L788.3,421.3 L788.8,422.0 L789.3,420.5 L789.8,421.5 L790.3,420.7 L790.7,420.5 L791.2,420.1 L791.7,419.3 L792.2,419.7 L792.7,419.9 L793.2,419.6 L793.7,420.3 L794.2,420.2 L794.7,420.3 L795.2,419.4 L795.7,423.1 L796.2,420.3 L796.7,420.5 L797.2,420.0 L797.7,420.1 L798.2,419.4 L798.7,419.8 L799.2,420.6 L799.7,419.7 L800.2,420.5 L800.7,419.4 L801.2,419.1 L801.7,418.8 L802.2,418.7 L802.7,417.1 L803.3,414.8 L803.8,412.5 L804.4,409.7 L805.0,405.8 L805.6,407.7 L806.1,404.1 L806.7,403.3 L807.1,400.0 L807.6,396.9 L808.0,393.3 L808.8,382.5 L809.7,390.8 L810.2,389.2 L810.8,387.9 L811.3,388.0 L811.8,387.3 L812.3,387.6 L812.8,386.8 L813.3,386.2 L813.8,386.7 L814.4,384.9 L814.9,384.2 L815.5,383.0 L816.1,382.6 L816.6,381.9 L817.2,380.8 L817.6,378.9 L818.1,377.1 L818.5,375.0 L818.7,374.7 L819.1,376.4 L819.6,378.9 L820.0,381.7 L820.5,382.4 L821.0,382.1 L821.5,382.3 L822.0,382.4 L822.5,382.5 L822.9,377.8 L823.4,373.1 L823.8,368.3 L824.2,360.0 L824.7,358.3 L825.3,357.8 L825.8,356.7 L826.3,356.1 L826.8,356.3 L827.2,359.3 L827.7,355.1 L828.2,354.2 L828.7,354.2 L829.1,353.4 L829.5,352.2 L830.0,351.5 L830.4,350.8 L830.8,350.0 L831.3,349.4 L831.8,348.3 L832.3,346.9 L832.8,345.9 L833.3,345.0 L833.8,344.8 L834.3,344.6 L834.8,343.9 L835.3,343.2 L835.8,342.5 L836.3,341.6 L836.8,341.8 L837.3,340.9 L837.7,340.6 L838.2,342.6 L838.7,340.0 L839.2,339.2 L839.7,336.2 L840.3,333.9 L840.8,331.7 L841.7,324.7 L842.2,325.0 L842.7,324.4 L843.2,324.0 L843.7,323.3 L844.2,323.7 L844.8,320.9 L845.3,318.3 L845.8,317.1 L846.2,314.8 L846.7,313.7 L847.2,314.1 L847.7,313.8 L848.2,313.9 L848.7,313.2 L849.2,314.0 L849.7,313.3 L850.2,311.0 L850.8,307.7 L851.3,305.0 L851.9,303.5 L852.4,301.1 L853.0,299.2 L853.5,299.5 L853.9,299.3 L854.4,300.2 L854.9,300.5 L855.4,301.5 L855.8,300.8 L856.4,301.8 L856.9,302.4 L857.5,302.5 L858.0,315.0 L858.3,328.0 L858.9,327.1 L859.4,325.7 L860.0,324.2 L860.5,323.2 L861.0,323.4 L861.4,323.0 L861.9,323.4 L862.4,323.3 L862.9,322.1 L863.3,323.0 L863.8,322.4 L864.3,321.9 L864.8,322.3 L865.2,321.4 L865.7,322.3 L866.2,321.7 L866.7,322.5 L867.5,313.3 L868.3,304.2 L868.9,302.7 L869.4,301.1 L870.0,300.0 L870.5,300.0 L871.0,299.7 L871.4,298.5 L871.9,298.5 L872.4,299.0 L872.9,298.9 L873.3,299.2 L873.8,298.8 L874.3,298.3 L874.8,297.8 L875.3,296.7 L875.3,295.0 L875.3,280.0 L875.8,270.8 L876.3,269.1 L876.8,268.1 L877.3,268.2 L877.8,267.6 L878.3,266.7 L878.8,266.1 L879.3,265.0 L879.8,262.4 L880.3,263.4 L880.8,262.5 L881.4,261.5 L881.9,259.2 L882.5,257.5 L883.0,243.3 L883.3,221.7 L883.7,206.7 L884.2,200.7 L884.7,195.0 L885.0,213.3 L885.3,235.0 L885.8,255.0 L886.7,243.3 L887.5,234.2 L888.1,239.9 L888.7,245.0 L889.2,242.3 L889.7,240.0 L890.2,237.5 L890.8,233.7 L891.4,240.8 L892.0,248.3 L892.4,244.1 L892.9,241.3 L893.3,238.3 L893.9,237.0 L894.4,234.8 L895.0,233.7 L895.3,255.0 L895.8,280.0 L896.3,290.0 L896.9,286.6 L897.5,283.3 L898.1,281.0 L898.7,278.3 L899.2,277.1 L899.8,277.2 L900.3,277.5 L900.8,280.7 L901.3,283.3 L902.0,295.0 L902.0,300.8 L902.4,302.3 L902.9,304.4 L903.3,306.7 L903.9,305.7 L904.4,303.0 L905.0,300.0 L905.5,299.6 L906.0,298.5 L906.5,298.3 L907.0,297.6 L907.5,296.7 L907.9,296.3 L908.4,295.5 L908.8,294.4 L909.2,294.0 L909.7,293.3 L910.3,287.5 L910.8,284.7 L911.3,281.7 L910.8,281.7 L911.4,280.2 L912.0,278.3 L912.4,280.0 L912.9,280.9 L913.3,281.7 L913.9,280.1 L914.4,279.6 L915.0,278.3 L915.6,277.3 L916.1,277.3 L916.7,276.7 L917.2,275.2 L917.8,274.6 L918.3,275.0 L918.8,277.1 L919.2,278.1 L919.7,280.0 L920.2,279.8 L920.8,278.4 L921.3,277.5 L921.9,275.2 L922.5,273.3 L923.1,273.2 L923.6,271.7 L924.2,270.8 L924.7,273.1 L925.3,276.0 L925.8,277.5 L926.4,280.6 L926.9,276.3 L927.5,275.0 L928.1,275.0 L928.6,274.0 L929.2,273.3 L930.0,267.5 L930.8,274.2 L931.3,274.8 L931.8,274.3 L932.3,274.9 L932.8,274.8 L933.3,275.3 L933.8,275.0 L934.3,275.1 L934.8,275.7 L935.2,274.7 L935.7,275.1 L936.2,272.1 L936.7,275.3 L937.2,275.6 L937.7,274.9 L938.2,275.5 L938.7,273.8 L939.2,275.8 L939.6,276.2 L940.0,275.9 L940.5,275.6 L940.9,275.3 L941.3,275.3 L941.8,274.4 L942.3,275.2 L942.8,275.7 L943.3,276.7 L943.9,278.2 L944.4,279.3 L945.0,280.0 L945.4,279.4 L945.9,278.3 L946.3,277.5 L946.9,280.2 L947.5,284.2 L948.1,285.7 L948.6,286.2 L949.2,287.5 L950.0,278.3 L950.6,277.2 L951.1,276.0 L951.7,275.0 L952.2,275.8 L952.7,275.0 L953.2,274.4 L953.7,273.9 L954.2,274.2 L954.7,273.0 L955.2,273.3 L955.7,274.1 L956.2,273.3 L956.7,273.3 L957.2,272.5 L957.7,272.9 L958.2,272.6 L958.7,272.4 L959.2,272.0 L959.7,272.0 L960.2,271.3 L960.7,270.5 L961.2,270.7 L961.7,271.3 L962.5,263.3 L963.0,253.3 L963.8,270.8 L964.4,272.6 L965.0,273.3 L965.6,272.5 L966.1,271.1 L966.7,270.0 L967.1,268.9 L967.6,267.6 L968.0,266.7 L968.6,270.6 L969.2,275.0 L969.7,266.7 L970.2,261.5 L970.8,257.5 L971.7,253.3 L972.2,253.3 L972.7,252.9 L973.2,253.2 L973.7,253.0 L974.2,252.5 L974.8,256.0 L975.3,258.0 L975.9,256.5 L976.4,254.2 L977.0,252.5 L977.4,250.3 L977.9,253.7 L978.3,254.7 L978.7,255.1 L979.2,255.0 L979.7,256.6 L980.3,257.3 L980.8,258.3 L981.3,255.4 L981.8,257.9 L982.3,257.4 L982.8,257.2 L983.3,257.5 L983.8,256.2 L984.3,255.0 L984.8,254.3 L985.3,253.3 L985.9,255.1 L986.4,257.3 L987.0,258.3 L987.4,262.1 L987.9,259.9 L988.3,260.0 L988.7,260.2 L989.2,260.8 L989.7,260.5 L990.3,260.0 L990.8,260.8 L991.4,259.1 L991.9,257.7 L992.5,255.8 L993.1,255.8 L993.6,256.6 L994.2,257.5 L994.8,254.3 L995.3,251.7 L995.8,249.3 L996.2,246.7 L996.7,245.0 L997.2,243.8 L997.7,244.1 L998.2,244.8 L998.7,241.7 L999.2,240.7 L999.8,240.4 L1000.3,239.7 L1000.8,240.5 L1001.2,240.8 L1001.6,241.7 L1002.1,243.0 L1002.5,244.2 L1003.1,246.0 L1003.6,248.1 L1004.2,248.3 L1004.7,263.3 L1005.0,270.8 L1005.5,271.4 L1006.0,272.3 L1006.5,272.4 L1007.0,272.5 L1007.4,272.4 L1007.9,271.7 L1008.3,271.5 L1008.7,271.5 L1009.2,270.8 L1009.7,273.3 L1010.3,276.6 L1010.8,278.3 L1011.7,266.7 L1012.2,268.5 L1012.8,269.9 L1013.3,270.8 L1013.8,270.7 L1014.3,270.6 L1014.8,270.0 L1015.3,269.5 L1015.8,270.0 L1016.3,270.0 L1016.8,269.5 L1017.3,270.5 L1017.7,270.7 L1018.2,270.1 L1018.7,269.8 L1019.2,270.0 L1019.8,266.5 L1020.3,263.3 L1020.8,246.7 L1021.3,213.3 L1021.7,180.0 L1021.3,126.7 L1021.7,85.0 L1022.2,73.0 L1022.8,75.6 L1023.3,78.3 L1024.2,83.3 L1024.7,83.5 L1025.3,83.8 L1025.8,84.2 L1026.4,82.9 L1026.9,81.8 L1027.5,80.8 L1028.0,80.9 L1028.5,81.0 L1028.9,81.1 L1029.4,81.3 L1029.9,81.2 L1030.4,81.3 L1030.8,81.3 L1031.3,81.4 L1031.8,81.5 L1032.2,81.6 L1032.7,81.7 L1033.1,81.7 L1033.6,81.8 L1034.1,81.9 L1034.5,82.1 L1035.0,82.0 L1035.5,82.2 L1035.9,82.2 L1036.4,82.2 L1036.8,82.5 L1037.3,82.7 L1037.8,82.9 L1038.2,83.1 L1038.7,83.3 L1039.5,79.7 L1040.3,83.3 L1040.8,83.0 L1041.3,82.7 L1041.8,82.5 L1042.3,82.3 L1042.8,82.1 L1043.3,82.0 L1043.8,81.8 L1044.3,81.9 L1044.7,82.0 L1045.2,81.9 L1045.6,81.8 L1046.1,81.6 L1046.6,81.5 L1047.0,81.5 L1047.5,81.3 L1048.0,81.3 L1048.4,81.2 L1048.9,81.1 L1049.4,81.2 L1049.8,81.1 L1050.3,81.1 L1050.7,81.0 L1051.2,81.0 L1051.7,80.8 L1052.2,80.6 L1052.7,80.2 L1053.2,80.0 L1053.7,79.7 L1054.1,78.7 L1054.6,77.7 L1055.0,76.7 L1055.6,76.3 L1056.2,75.8 L1056.7,85.0 L1057.2,105.0 L1057.8,102.8 L1058.3,100.8 L1058.8,101.3 L1059.3,101.6 L1059.8,102.0 L1060.3,102.2 L1060.8,102.5 L1061.3,102.7 L1061.8,102.8 L1062.3,103.0 L1062.7,103.3 L1063.2,103.3 L1063.7,103.4 L1064.2,103.7 L1064.7,103.6 L1065.2,103.5 L1065.7,103.7 L1066.2,103.7 L1066.7,103.7 L1067.2,104.2 L1067.8,104.5 L1068.3,104.7 L1068.9,105.7 L1069.4,106.7 L1070.0,107.5 L1070.6,108.2 L1071.1,109.2 L1071.7,110.0 L1072.1,112.0 L1072.6,113.9 L1073.0,115.8 L1073.5,116.3 L1074.0,116.6 L1074.5,117.1 L1075.0,117.5 L1075.5,117.5 L1076.0,117.5 L1076.5,117.6 L1077.0,117.5 L1077.5,109.2 L1078.1,108.2 L1078.6,107.2 L1079.2,106.3 L1079.6,106.2 L1080.1,106.2 L1080.6,106.1 L1081.1,106.0 L1081.5,106.0 L1082.0,105.9 L1082.5,105.8 L1083.0,105.7 L1083.4,105.8 L1083.9,105.7 L1084.4,105.7 L1084.8,105.7 L1085.3,105.5 L1085.7,105.4 L1086.2,105.4 L1086.7,105.3 L1087.1,105.2 L1087.6,105.2 L1088.1,105.2 L1088.5,105.1 L1089.0,105.1 L1089.4,105.0 L1089.9,104.8 L1090.4,104.8 L1090.8,104.7 L1091.3,104.7 L1091.8,104.9 L1092.3,104.9 L1092.8,104.8 L1093.3,104.7 L1093.8,105.0 L1094.3,105.3 L1094.8,105.7 L1095.3,106.1 L1095.8,106.3 L1096.4,107.6 L1096.9,108.8 L1097.5,110.0 L1098.3,121.7 L1098.8,131.7 L1099.7,136.3 L1100.2,136.5 L1100.7,136.7 L1101.2,136.8 L1101.7,137.0 L1102.2,137.1 L1102.8,137.3 L1103.3,137.5 L1103.9,138.4 L1104.4,139.1 L1105.0,140.0 L1105.6,140.7 L1106.1,141.6 L1106.7,142.5 L1107.5,150.0 L1108.0,156.7 L1108.6,157.7 L1109.1,158.9 L1109.7,160.0 L1110.2,163.3 L1110.8,166.7 L1111.3,175.0 L1111.7,186.7 L1112.5,188.3 L1113.3,176.7 L1113.8,175.9 L1114.2,175.2 L1114.7,174.7 L1115.2,175.0 L1115.7,175.4 L1116.2,175.6 L1116.7,175.8 L1117.1,177.3 L1117.6,178.8 L1118.0,180.0 L1118.7,190.0 L1119.1,191.1 L1119.6,192.2 L1120.0,193.3 L1120.6,193.8 L1121.1,194.5 L1121.7,195.0 L1122.1,196.9 L1122.6,198.9 L1123.0,200.8 L1123.7,208.3 L1124.1,209.7 L1124.6,211.0 L1125.0,212.5 L1125.5,212.8 L1126.0,212.9 L1126.5,213.1 L1127.0,213.4 L1127.5,213.7 L1128.0,213.6 L1128.5,213.6 L1129.0,213.7 L1129.5,213.7 L1130.0,213.7 L1130.3,231.7 L1130.5,256.7 L1130.8,280.0 L1130.8,385.0 L1131.7,406.7 L1132.5,386.7 L1133.3,402.5 L1133.8,402.8 L1134.3,402.9 L1134.8,403.1 L1135.3,403.3 L1135.8,403.3 L1136.3,403.7 L1136.8,403.9 L1137.3,404.2 L1137.8,404.5 L1138.3,404.7 L1138.9,405.6 L1139.4,406.5 L1140.0,407.5 L1140.5,407.8 L1141.0,408.2 L1141.5,408.5 L1142.0,408.7 L1142.5,409.2 L1143.0,409.1 L1143.5,409.0 L1144.0,408.7 L1144.5,408.6 L1145.0,408.3 L1145.5,408.9 L1146.0,409.5 L1146.5,410.2 L1147.0,410.8 L1147.4,412.2 L1147.9,413.6 L1148.3,415.0 L1148.9,413.6 L1149.4,412.1 L1150.0,410.8 L1150.8,391.7 L1150.8,375.0 L1150.8,336.7 L1151.3,322.5 L1151.8,323.1 L1152.3,323.6 L1152.8,324.1 L1153.3,324.7 L1153.8,324.9 L1154.3,325.3 L1154.8,325.5 L1155.2,325.8 L1155.7,326.0 L1156.2,326.1 L1156.7,326.3 L1157.2,326.5 L1157.7,326.8 L1158.2,326.9 L1158.7,327.2 L1159.2,327.5 L1159.8,325.6 L1160.3,323.7 L1160.8,325.0 L1161.2,326.2 L1161.7,327.5 L1162.2,326.7 L1162.8,325.7 L1163.3,325.0 L1164.2,328.3 L1164.7,328.4 L1165.2,328.6 L1165.7,328.6 L1166.2,328.5 L1166.7,328.7 L1167.1,328.5 L1167.6,328.5 L1168.1,328.6 L1168.6,328.5 L1169.0,328.5 L1169.5,328.4 L1170.0,328.3 L1170.5,328.2 L1171.0,328.3 L1171.4,328.4 L1171.9,328.2 L1172.4,328.1 L1172.9,328.0 L1173.3,328.0 L1173.8,328.0 L1174.3,327.9 L1174.8,327.8 L1175.3,327.8 L1175.8,327.5 L1176.3,327.5 L1177.0,318.3 L1177.4,318.3 L1177.9,318.1 L1178.3,317.8 L1178.7,317.7 L1179.2,317.5 L1179.7,317.4 L1180.2,317.3 L1180.7,317.1 L1181.2,316.8 L1181.7,316.7 L1182.2,316.7 L1182.8,316.9 L1183.3,317.0 L1184.2,313.7 L1184.7,313.6 L1185.2,313.6 L1185.7,313.5 L1186.2,313.1 L1186.7,313.0 L1187.1,313.1 L1187.6,313.0 L1188.0,313.0 L1188.5,313.0 L1188.9,313.1 L1189.4,312.9 L1189.9,312.9 L1190.3,313.0 L1190.8,313.0 L1191.2,313.1 L1191.7,313.0 L1192.1,313.0 L1192.6,313.0 L1193.0,313.1 L1193.5,313.1 L1193.9,313.1 L1194.4,313.1 L1194.9,313.2 L1195.3,313.2 L1195.8,313.3 L1196.2,313.2 L1196.7,313.3 L1197.1,313.4 L1197.6,313.5 L1198.1,313.5 L1198.6,313.4 L1199.0,313.5 L1199.5,313.7 L1200.0,313.7" stroke="#4D4D4D" stroke-width="2.6"/>
</g>
<path d="M668.5,50.4H673.1M668.5,176.35H673.1M668.5,302.3H673.1M668.5,428.25H673.1M668.5,554.25H673.1M673.2,579.3V583.7M782.0,579.3V583.7M891.2,579.3V583.7M1000.3,579.3V583.7M1109.5,579.3V583.7" stroke="#333" stroke-width="1.65" fill="none"/>
<g font-size="15.4" fill="#4D4D4D" stroke="#4D4D4D" stroke-width="0.25" text-anchor="end">
<text x="665.6" y="56.0">1.00</text>
<text x="665.6" y="181.9">0.75</text>
<text x="665.6" y="307.9">0.50</text>
<text x="665.6" y="433.9">0.25</text>
<text x="665.6" y="559.9">0.00</text>
</g>
<g font-size="15.4" fill="#4D4D4D" stroke="#4D4D4D" stroke-width="0.25" text-anchor="end">
<text transform="translate(678.7,586.6) rotate(-90)">2017</text>
<text transform="translate(787.5,586.6) rotate(-90)">2018</text>
<text transform="translate(896.7,586.6) rotate(-90)">2019</text>
<text transform="translate(1005.8,586.6) rotate(-90)">2020</text>
<text transform="translate(1115.0,586.6) rotate(-90)">2021</text>
</g>
<text transform="translate(624.3,302.2) rotate(-90)" font-size="16.4" text-anchor="middle" fill="#000" stroke="#000" stroke-width="0.25">Average R<tspan font-size="11.5" dy="-8.1">2</tspan></text>
<text x="672.6" y="13.2" font-size="18.2" font-weight="bold" fill="#000" stroke="#000" stroke-width="0.2">Panel B: Volatility</text>
<rect x="213.2" y="655.9" width="24.6" height="38.1" fill="#F2F2F2"/>
<path d="M215.3,674.3H235.3" stroke="#F8766D" stroke-width="2.7" fill="none" stroke-dasharray="2.50 7.50 10.00 7.50"/>
<rect x="387.1" y="655.9" width="24.3" height="38.1" fill="#F2F2F2"/>
<path d="M389.1,674.3H409.0" stroke="#00B0F6" stroke-width="2.7" fill="none" stroke-dasharray="5.00 5.00 15.00 5.00"/>
<rect x="711.3" y="655.9" width="23.7" height="38.1" fill="#F2F2F2"/>
<path d="M713.3,674.3H732.6" stroke="#4D4D4D" stroke-width="2.7" fill="none"/>
<g fill="#000" stroke="#000" stroke-width="0.3" font-size="21.0">
<text x="245.0" y="682.9">Spillovers</text>
<text x="341.6" y="682.9">(</text>
<text x="348.5" y="682.9">R</text>
<text x="373.3" y="682.9">)</text>
<text x="363.8" y="672.3" font-size="14.9">2</text>
<text x="363.8" y="689.6" font-size="14.9">s</text>
</g>
<path d="M348.0,658.5H373.2" stroke="#000" stroke-width="1.3" fill="none"/>
<g fill="#000" stroke="#000" stroke-width="0.3" font-size="21.0">
<text x="418.9" y="682.9">Contemporaneous effects</text>
<text x="665.0" y="682.9">(</text>
<text x="672.1" y="682.9">R</text>
<text x="696.9" y="682.9">)</text>
<text x="687.4" y="672.3" font-size="14.9">2</text>
<text x="687.4" y="689.6" font-size="14.9">c</text>
</g>
<path d="M671.8,658.5H696.8" stroke="#000" stroke-width="1.3" fill="none"/>
<g fill="#000" stroke="#000" stroke-width="0.3" font-size="21.0">
<text x="743.0" y="682.9">Total connectedness</text>
<text x="940.4" y="682.9">(</text>
<text x="948.0" y="682.9">R</text>
<text x="988.4" y="682.9">)</text>
<text x="962.9" y="672.3" font-size="14.9">2</text>
<text x="963.0" y="689.6" font-size="14.9">s</text>
<text x="971.2" y="689.6" font-size="14.9">+</text>
<text x="980.5" y="689.6" font-size="14.9">c</text>
</g>
<path d="M947.3,658.5H972.3" stroke="#000" stroke-width="1.3" fill="none"/>
</svg>
</body></html>
